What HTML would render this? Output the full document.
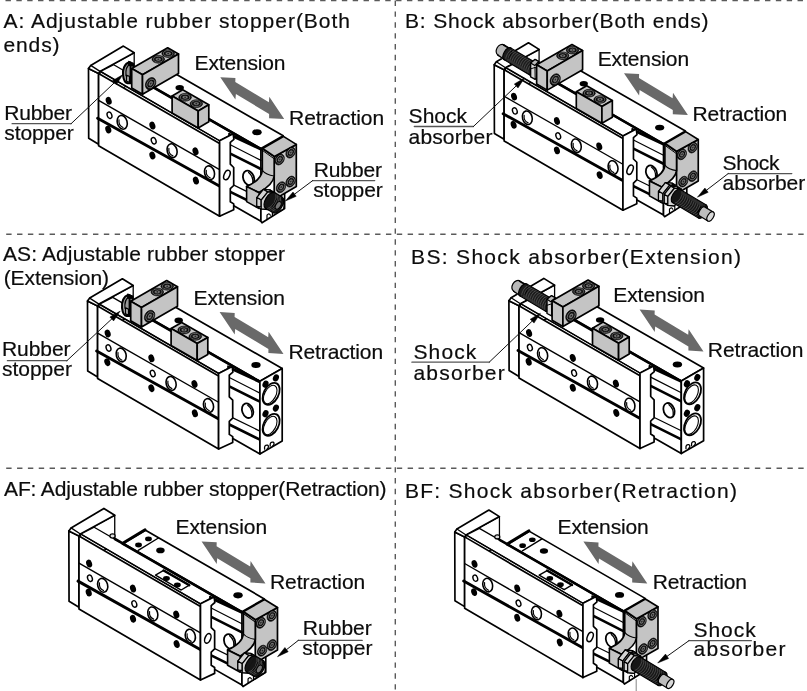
<!DOCTYPE html>
<html><head><meta charset="utf-8"><title>Stopper options</title>
<style>
html,body{margin:0;padding:0;background:#fff;}
body{width:807px;height:691px;overflow:hidden;}
svg{display:block;filter:grayscale(1);}
text{font-family:"Liberation Sans",sans-serif;fill:#0c0c0c;stroke:#0c0c0c;stroke-width:0.2px;}
</style></head><body>
<svg width="807" height="691" viewBox="0 0 807 691">
<rect width="807" height="691" fill="#fff"/>
<g stroke="#5a5a5a" stroke-width="1.4" fill="none" stroke-dasharray="5.4 5.45">
<line x1="5.5" y1="0.1" x2="807" y2="0.1" stroke-width="2.2"/>
<line x1="6.2" y1="234.3" x2="807" y2="234.3"/>
<line x1="6.2" y1="468.3" x2="807" y2="468.3"/>
<line x1="395.3" y1="0.6" x2="395.3" y2="691"/>
</g>
<g transform="translate(0.00 0.00) scale(1.0000 1.0000)"><polygon points="100.0,71.4 134.2,52.8 134.2,82.0 100.0,100.0" fill="#fff" stroke="#000" stroke-width="1.3" stroke-linejoin="round" /><polygon points="88.5,68.4 98.6,73.4 98.6,144.2 88.7,138.2" fill="#fff" stroke="#000" stroke-width="1.7" stroke-linejoin="round" /><polygon points="88.5,68.4 90.7,65.4 123.4,46.1 134.2,52.8 100.0,71.4 98.6,73.4" fill="#fff" stroke="#000" stroke-width="1.7" stroke-linejoin="round" /><line x1="90.7" y1="65.4" x2="100.0" y2="71.4" stroke="#000" stroke-width="1.3" stroke-linecap="round" /><polygon points="143.0,80.8 164.9,67.8 283.2,135.8 260.9,148.6" fill="#fff" stroke="#000" stroke-width="1.7" stroke-linejoin="round" /><polygon points="100.6,71.4 113.7,64.7 233.2,133.6 219.6,140.7" fill="#fff" stroke="#000" stroke-width="1.3" stroke-linejoin="round" /><line x1="142.0" y1="81.0" x2="260.9" y2="149.0" stroke="#000" stroke-width="2.5" stroke-linecap="round" /><polygon points="98.6,73.4 219.6,143.4 219.6,216.2 98.6,145.8" fill="#fff" stroke="#000" stroke-width="1.7" stroke-linejoin="round" /><line x1="100.0" y1="71.4" x2="219.6" y2="140.7" stroke="#000" stroke-width="1.3" stroke-linecap="round" /><line x1="98.6" y1="100.4" x2="220.0" y2="169.8" stroke="#000" stroke-width="1.4" stroke-linecap="round" /><line x1="97.6" y1="118.2" x2="219.8" y2="186.2" stroke="#000" stroke-width="2.9" stroke-linecap="round" /><ellipse cx="108.7" cy="100.8" rx="2.9" ry="4.0" fill="#000" stroke="none" stroke-width="1" transform="rotate(-18 108.7 100.8)"/><ellipse cx="108.3" cy="129.5" rx="2.9" ry="4.0" fill="#000" stroke="none" stroke-width="1" transform="rotate(-18 108.3 129.5)"/><ellipse cx="152.4" cy="125.6" rx="2.9" ry="4.0" fill="#000" stroke="none" stroke-width="1" transform="rotate(-18 152.4 125.6)"/><ellipse cx="152.4" cy="155.5" rx="2.9" ry="4.0" fill="#000" stroke="none" stroke-width="1" transform="rotate(-18 152.4 155.5)"/><ellipse cx="195.5" cy="151.3" rx="2.9" ry="4.0" fill="#000" stroke="none" stroke-width="1" transform="rotate(-18 195.5 151.3)"/><ellipse cx="195.9" cy="180.6" rx="2.9" ry="4.0" fill="#000" stroke="none" stroke-width="1" transform="rotate(-18 195.9 180.6)"/><ellipse cx="109.5" cy="115.3" rx="2.3" ry="3.3" fill="#fff" stroke="#000" stroke-width="1.4" transform="rotate(-20 109.5 115.3)"/><ellipse cx="153.7" cy="140.8" rx="2.3" ry="3.3" fill="#fff" stroke="#000" stroke-width="1.4" transform="rotate(-20 153.7 140.8)"/><ellipse cx="122.2" cy="122.3" rx="4.9" ry="7.0" fill="#fff" stroke="#000" stroke-width="1.6" transform="rotate(-15 122.2 122.3)"/><path d="M119.0,119.9 q-0.8,5.4 4.0,7.6" fill="none" stroke="#000" stroke-width="1.2" stroke-linejoin="round" stroke-linecap="round" /><ellipse cx="172.1" cy="150.7" rx="4.9" ry="7.0" fill="#fff" stroke="#000" stroke-width="1.6" transform="rotate(-15 172.1 150.7)"/><path d="M168.9,148.3 q-0.8,5.4 4.0,7.6" fill="none" stroke="#000" stroke-width="1.2" stroke-linejoin="round" stroke-linecap="round" /><ellipse cx="209.5" cy="172.8" rx="4.9" ry="7.0" fill="#fff" stroke="#000" stroke-width="1.6" transform="rotate(-15 209.5 172.8)"/><path d="M206.3,170.4 q-0.8,5.4 4.0,7.6" fill="none" stroke="#000" stroke-width="1.2" stroke-linejoin="round" stroke-linecap="round" /><polygon points="229.0,133.5 260.9,148.6 260.9,221.2 229.0,203.0" fill="#fff" stroke="#000" stroke-width="1.7" stroke-linejoin="round" /><line x1="230.3" y1="144.8" x2="260.9" y2="160.4" stroke="#000" stroke-width="1.2" stroke-linecap="round" /><line x1="230.3" y1="153.6" x2="260.9" y2="169.0" stroke="#000" stroke-width="2.6" stroke-linecap="round" /><line x1="230.3" y1="183.4" x2="260.9" y2="198.4" stroke="#000" stroke-width="1.2" stroke-linecap="round" /><line x1="230.3" y1="191.8" x2="260.9" y2="207.0" stroke="#000" stroke-width="2.6" stroke-linecap="round" /><line x1="230.3" y1="135.2" x2="260.9" y2="149.4" stroke="#000" stroke-width="2.4" stroke-linecap="round" /><ellipse cx="248.6" cy="178.0" rx="5.4" ry="7.5" fill="#fff" stroke="#000" stroke-width="1.8" transform="rotate(-20 248.6 178.0)"/><path d="M248.6,172.4 q5.0,4.0 4.2,10.6" fill="none" stroke="#000" stroke-width="1.3" stroke-linejoin="round" stroke-linecap="round" /><polygon points="219.6,140.7 233.2,133.8 233.9,139.4 230.3,142.4 230.3,164.2 233.7,167.5 233.7,185.5 230.3,188.7 230.3,201.7 233.7,203.9 233.7,209.7 219.6,216.2" fill="#fff" stroke="#000" stroke-width="1.7" stroke-linejoin="round" /><ellipse cx="226.9" cy="175.0" rx="2.8" ry="5.0" fill="#fff" stroke="#000" stroke-width="1.5" transform="rotate(22 226.9 175.0)"/><ellipse cx="179.7" cy="87.7" rx="4.2" ry="2.8" fill="#000" stroke="none" stroke-width="1"/><ellipse cx="257.0" cy="132.3" rx="4.7" ry="3.0" fill="#000" stroke="none" stroke-width="1"/><path d="M129.4,62.2 C124.4,63.4 122.4,69.6 123.0,75.2 C123.6,80.2 125.6,83.0 127.6,83.2 L130.6,83.2 L130.6,62.6 Z" fill="#9a9a9a" stroke="#000" stroke-width="2.0" stroke-linejoin="round" stroke-linecap="round" /><path d="M129.8,64.4 C126.6,66 125.6,71 126.0,75.6" fill="none" stroke="#000" stroke-width="1.2" stroke-linejoin="round" stroke-linecap="round" /><polygon points="126.6,75.2 129.4,76.4 129.4,82.4 126.6,81.2" fill="#c4c4c4" stroke="#000" stroke-width="1.2" stroke-linejoin="round" /><polygon points="128.6,61.2 134.0,63.4 134.0,66.6 128.6,65.4" fill="#000" stroke="#000" stroke-width="1.0" stroke-linejoin="round" /><polygon points="131.7,68.5 167.7,47.8 178.5,54.0 142.5,74.7" fill="#c4c4c4" stroke="#000" stroke-width="1.7" stroke-linejoin="round" /><polygon points="131.7,68.5 142.5,74.7 142.5,94.2 131.7,88.0" fill="#c4c4c4" stroke="#000" stroke-width="1.7" stroke-linejoin="round" /><polygon points="142.5,74.7 178.5,54.0 178.5,73.5 142.5,94.2" fill="#c4c4c4" stroke="#000" stroke-width="1.7" stroke-linejoin="round" /><ellipse cx="158.3" cy="59.3" rx="6.3" ry="3.9" fill="#0a0a0a" stroke="#000" stroke-width="0.6"/><ellipse cx="158.3" cy="59.2" rx="4.7" ry="2.9" fill="none" stroke="#8a8a8a" stroke-width="0.7"/><ellipse cx="158.3" cy="59.2" rx="2.9" ry="1.8" fill="#777" stroke="#000" stroke-width="0.5"/><ellipse cx="158.3" cy="59.2" rx="1.0" ry="0.8" fill="#222" stroke="none" stroke-width="0"/><ellipse cx="168.2" cy="53.6" rx="6.3" ry="3.9" fill="#0a0a0a" stroke="#000" stroke-width="0.6"/><ellipse cx="168.2" cy="53.5" rx="4.7" ry="2.9" fill="none" stroke="#8a8a8a" stroke-width="0.7"/><ellipse cx="168.2" cy="53.5" rx="2.9" ry="1.8" fill="#777" stroke="#000" stroke-width="0.5"/><ellipse cx="168.2" cy="53.5" rx="1.0" ry="0.8" fill="#222" stroke="none" stroke-width="0"/><ellipse cx="150.6" cy="83.6" rx="4.8" ry="6.4" fill="#0a0a0a" stroke="#000" stroke-width="0.6" transform="rotate(30 150.6 83.6)"/><ellipse cx="150.8" cy="83.5" rx="3.4" ry="4.7" fill="none" stroke="#8a8a8a" stroke-width="0.7" transform="rotate(30 150.8 83.5)"/><ellipse cx="150.8" cy="83.5" rx="2.1" ry="3.0" fill="#777" stroke="#000" stroke-width="0.5" transform="rotate(30 150.8 83.5)"/><ellipse cx="150.8" cy="83.5" rx="0.7" ry="1.2" fill="#222" stroke="none" stroke-width="0" transform="rotate(30 150.8 83.5)"/><polygon points="172.1,95.9 182.7,89.8 208.8,104.8 198.2,110.9" fill="#c4c4c4" stroke="#000" stroke-width="1.7" stroke-linejoin="round" /><polygon points="172.1,95.9 198.2,110.9 198.2,127.9 172.1,112.9" fill="#c4c4c4" stroke="#000" stroke-width="1.7" stroke-linejoin="round" /><polygon points="198.2,110.9 208.8,104.8 208.8,121.8 198.2,127.9" fill="#c4c4c4" stroke="#000" stroke-width="1.7" stroke-linejoin="round" /><ellipse cx="185.1" cy="97.3" rx="6.3" ry="3.9" fill="#0a0a0a" stroke="#000" stroke-width="0.6"/><ellipse cx="185.1" cy="97.2" rx="4.7" ry="2.9" fill="none" stroke="#8a8a8a" stroke-width="0.7"/><ellipse cx="185.1" cy="97.2" rx="2.9" ry="1.8" fill="#777" stroke="#000" stroke-width="0.5"/><ellipse cx="185.1" cy="97.2" rx="1.0" ry="0.8" fill="#222" stroke="none" stroke-width="0"/><ellipse cx="196.3" cy="103.7" rx="6.3" ry="3.9" fill="#0a0a0a" stroke="#000" stroke-width="0.6"/><ellipse cx="196.3" cy="103.6" rx="4.7" ry="2.9" fill="none" stroke="#8a8a8a" stroke-width="0.7"/><ellipse cx="196.3" cy="103.6" rx="2.9" ry="1.8" fill="#777" stroke="#000" stroke-width="0.5"/><ellipse cx="196.3" cy="103.6" rx="1.0" ry="0.8" fill="#222" stroke="none" stroke-width="0"/><polygon points="260.9,205.0 284.6,192.0 284.6,208.5 262.0,222.8 260.9,221.2" fill="#fff" stroke="#000" stroke-width="1.7" stroke-linejoin="round" /><path d="M267,219.6 v-4.4 q2,-2.6 3.4,0 M272.4,216.4 v-4.2" fill="none" stroke="#000" stroke-width="1.2" stroke-linejoin="round" stroke-linecap="round" /><polygon points="274.2,156.6 296.3,144.4 296.3,186.6 281.0,195.4 274.2,198.8" fill="#c4c4c4" stroke="#000" stroke-width="1.7" stroke-linejoin="round" /><path d="M262.3,148.6 L274.2,156.6 L274.2,176 Q273.5,184 259,192.6 L246.6,186.4 Q261.5,180 262.3,170.4 Z" fill="#c4c4c4" stroke="#000" stroke-width="1.7" stroke-linejoin="round" stroke-linecap="round" /><path d="M262.3,170.4 Q266,175 274.2,176" fill="none" stroke="#000" stroke-width="1.1" stroke-linejoin="round" stroke-linecap="round" /><polygon points="262.6,148.4 283.4,136.4 296.3,144.4 274.4,156.4" fill="#c4c4c4" stroke="#000" stroke-width="1.7" stroke-linejoin="round" /><line x1="263.0" y1="150.8" x2="273.6" y2="158.4" stroke="#000" stroke-width="1.0" stroke-linecap="round" /><ellipse cx="279.6" cy="159.5" rx="4.3" ry="5.8" fill="#0a0a0a" stroke="#000" stroke-width="0.6" transform="rotate(30 279.6 159.5)"/><ellipse cx="279.8" cy="159.4" rx="3.1" ry="4.2" fill="none" stroke="#8a8a8a" stroke-width="0.7" transform="rotate(30 279.8 159.4)"/><ellipse cx="279.8" cy="159.4" rx="1.9" ry="2.7" fill="#777" stroke="#000" stroke-width="0.5" transform="rotate(30 279.8 159.4)"/><ellipse cx="279.8" cy="159.4" rx="0.7" ry="1.1" fill="#222" stroke="none" stroke-width="0" transform="rotate(30 279.8 159.4)"/><ellipse cx="290.6" cy="152.6" rx="4.3" ry="5.8" fill="#0a0a0a" stroke="#000" stroke-width="0.6" transform="rotate(30 290.6 152.6)"/><ellipse cx="290.8" cy="152.5" rx="3.1" ry="4.2" fill="none" stroke="#8a8a8a" stroke-width="0.7" transform="rotate(30 290.8 152.5)"/><ellipse cx="290.8" cy="152.5" rx="1.9" ry="2.7" fill="#777" stroke="#000" stroke-width="0.5" transform="rotate(30 290.8 152.5)"/><ellipse cx="290.8" cy="152.5" rx="0.7" ry="1.1" fill="#222" stroke="none" stroke-width="0" transform="rotate(30 290.8 152.5)"/><ellipse cx="281.0" cy="187.2" rx="4.3" ry="5.8" fill="#0a0a0a" stroke="#000" stroke-width="0.6" transform="rotate(30 281.0 187.2)"/><ellipse cx="281.2" cy="187.1" rx="3.1" ry="4.2" fill="none" stroke="#8a8a8a" stroke-width="0.7" transform="rotate(30 281.2 187.1)"/><ellipse cx="281.2" cy="187.1" rx="1.9" ry="2.7" fill="#777" stroke="#000" stroke-width="0.5" transform="rotate(30 281.2 187.1)"/><ellipse cx="281.2" cy="187.1" rx="0.7" ry="1.1" fill="#222" stroke="none" stroke-width="0" transform="rotate(30 281.2 187.1)"/><ellipse cx="290.6" cy="181.6" rx="4.3" ry="5.8" fill="#0a0a0a" stroke="#000" stroke-width="0.6" transform="rotate(30 290.6 181.6)"/><ellipse cx="290.8" cy="181.5" rx="3.1" ry="4.2" fill="none" stroke="#8a8a8a" stroke-width="0.7" transform="rotate(30 290.8 181.5)"/><ellipse cx="290.8" cy="181.5" rx="1.9" ry="2.7" fill="#777" stroke="#000" stroke-width="0.5" transform="rotate(30 290.8 181.5)"/><ellipse cx="290.8" cy="181.5" rx="0.7" ry="1.1" fill="#222" stroke="none" stroke-width="0" transform="rotate(30 290.8 181.5)"/><polygon points="246.6,186.6 259.2,192.8 259.2,208.6 246.6,201.6" fill="#c4c4c4" stroke="#000" stroke-width="1.6" stroke-linejoin="round" /><polygon points="270.0,190.0 263.4,189.4 256.8,197.6 256.8,206.4 263.4,207.0 270.0,198.8" fill="#d4d4d4" stroke="#000" stroke-width="1.3" stroke-linejoin="round" /><polygon points="270.0,190.0 263.4,189.4 267.8,191.9 274.4,192.5" fill="#d4d4d4" stroke="#000" stroke-width="1.2" stroke-linejoin="round" /><polygon points="263.4,189.4 256.8,197.6 261.2,200.1 267.8,191.9" fill="#d4d4d4" stroke="#000" stroke-width="1.2" stroke-linejoin="round" /><polygon points="256.8,197.6 256.8,206.4 261.2,208.9 261.2,200.1" fill="#d4d4d4" stroke="#000" stroke-width="1.2" stroke-linejoin="round" /><polygon points="256.8,206.4 263.4,207.0 267.8,209.5 261.2,208.9" fill="#d4d4d4" stroke="#000" stroke-width="1.2" stroke-linejoin="round" /><polygon points="263.4,207.0 270.0,198.8 274.4,201.3 267.8,209.5" fill="#d4d4d4" stroke="#000" stroke-width="1.2" stroke-linejoin="round" /><polygon points="270.0,198.8 270.0,190.0 274.4,192.5 274.4,201.3" fill="#d4d4d4" stroke="#000" stroke-width="1.2" stroke-linejoin="round" /><polygon points="274.4,192.5 267.8,191.9 261.2,200.1 261.2,208.9 267.8,209.5 274.4,201.3" fill="#d4d4d4" stroke="#000" stroke-width="1.3" stroke-linejoin="round" /><ellipse cx="270.0" cy="200.4" rx="4.5" ry="9.0" fill="#161616" stroke="#000" stroke-width="1.2" transform="rotate(30.5 270.0 200.4)"/><polygon points="265.4,208.2 274.6,192.6 282.4,197.2 273.2,212.8" fill="#161616" stroke="#161616" stroke-width="0.1" stroke-linejoin="round" /><line x1="265.4" y1="208.2" x2="273.2" y2="212.8" stroke="#000" stroke-width="1.2" stroke-linecap="round" /><line x1="274.6" y1="192.6" x2="282.4" y2="197.2" stroke="#000" stroke-width="1.2" stroke-linecap="round" /><ellipse cx="277.8" cy="205.0" rx="4.5" ry="9.0" fill="#161616" stroke="#000" stroke-width="1.2" transform="rotate(30.5 277.8 205.0)"/><path d="M275.8,194.2 A4.5,9.0 30.5 0 1 267.4,208.5" fill="none" stroke="#707070" stroke-width="0.55"/><path d="M277.3,195.1 A4.5,9.0 30.5 0 1 268.9,209.4" fill="none" stroke="#707070" stroke-width="0.55"/><path d="M278.9,196.0 A4.5,9.0 30.5 0 1 270.5,210.3" fill="none" stroke="#707070" stroke-width="0.55"/><path d="M280.4,196.9 A4.5,9.0 30.5 0 1 272.0,211.2" fill="none" stroke="#707070" stroke-width="0.55"/><ellipse cx="278.2" cy="205.4" rx="2.4" ry="4.2" fill="#777" stroke="#000" stroke-width="1.0" transform="rotate(30 278.2 205.4)"/><path d="M281.8,198.6 q3.4,3.6 1.8,10.6 l-3.4,2.0" fill="none" stroke="#000" stroke-width="1.3" stroke-linejoin="round" stroke-linecap="round" /></g>
<g transform="translate(407.30 -2.56) scale(0.9820 0.9840)"><polygon points="100.0,71.4 134.2,52.8 134.2,82.0 100.0,100.0" fill="#fff" stroke="#000" stroke-width="1.3" stroke-linejoin="round" /><polygon points="88.5,68.4 98.6,73.4 98.6,144.2 88.7,138.2" fill="#fff" stroke="#000" stroke-width="1.7" stroke-linejoin="round" /><polygon points="88.5,68.4 90.7,65.4 123.4,46.1 134.2,52.8 100.0,71.4 98.6,73.4" fill="#fff" stroke="#000" stroke-width="1.7" stroke-linejoin="round" /><line x1="90.7" y1="65.4" x2="100.0" y2="71.4" stroke="#000" stroke-width="1.3" stroke-linecap="round" /><polygon points="143.0,80.8 164.9,67.8 283.2,135.8 260.9,148.6" fill="#fff" stroke="#000" stroke-width="1.7" stroke-linejoin="round" /><polygon points="100.6,71.4 113.7,64.7 233.2,133.6 219.6,140.7" fill="#fff" stroke="#000" stroke-width="1.3" stroke-linejoin="round" /><line x1="142.0" y1="81.0" x2="260.9" y2="149.0" stroke="#000" stroke-width="2.5" stroke-linecap="round" /><polygon points="98.6,73.4 219.6,143.4 219.6,216.2 98.6,145.8" fill="#fff" stroke="#000" stroke-width="1.7" stroke-linejoin="round" /><line x1="100.0" y1="71.4" x2="219.6" y2="140.7" stroke="#000" stroke-width="1.3" stroke-linecap="round" /><line x1="98.6" y1="100.4" x2="220.0" y2="169.8" stroke="#000" stroke-width="1.4" stroke-linecap="round" /><line x1="97.6" y1="118.2" x2="219.8" y2="186.2" stroke="#000" stroke-width="2.9" stroke-linecap="round" /><ellipse cx="108.7" cy="100.8" rx="2.9" ry="4.0" fill="#000" stroke="none" stroke-width="1" transform="rotate(-18 108.7 100.8)"/><ellipse cx="108.3" cy="129.5" rx="2.9" ry="4.0" fill="#000" stroke="none" stroke-width="1" transform="rotate(-18 108.3 129.5)"/><ellipse cx="152.4" cy="125.6" rx="2.9" ry="4.0" fill="#000" stroke="none" stroke-width="1" transform="rotate(-18 152.4 125.6)"/><ellipse cx="152.4" cy="155.5" rx="2.9" ry="4.0" fill="#000" stroke="none" stroke-width="1" transform="rotate(-18 152.4 155.5)"/><ellipse cx="195.5" cy="151.3" rx="2.9" ry="4.0" fill="#000" stroke="none" stroke-width="1" transform="rotate(-18 195.5 151.3)"/><ellipse cx="195.9" cy="180.6" rx="2.9" ry="4.0" fill="#000" stroke="none" stroke-width="1" transform="rotate(-18 195.9 180.6)"/><ellipse cx="109.5" cy="115.3" rx="2.3" ry="3.3" fill="#fff" stroke="#000" stroke-width="1.4" transform="rotate(-20 109.5 115.3)"/><ellipse cx="153.7" cy="140.8" rx="2.3" ry="3.3" fill="#fff" stroke="#000" stroke-width="1.4" transform="rotate(-20 153.7 140.8)"/><ellipse cx="122.2" cy="122.3" rx="4.9" ry="7.0" fill="#fff" stroke="#000" stroke-width="1.6" transform="rotate(-15 122.2 122.3)"/><path d="M119.0,119.9 q-0.8,5.4 4.0,7.6" fill="none" stroke="#000" stroke-width="1.2" stroke-linejoin="round" stroke-linecap="round" /><ellipse cx="172.1" cy="150.7" rx="4.9" ry="7.0" fill="#fff" stroke="#000" stroke-width="1.6" transform="rotate(-15 172.1 150.7)"/><path d="M168.9,148.3 q-0.8,5.4 4.0,7.6" fill="none" stroke="#000" stroke-width="1.2" stroke-linejoin="round" stroke-linecap="round" /><ellipse cx="209.5" cy="172.8" rx="4.9" ry="7.0" fill="#fff" stroke="#000" stroke-width="1.6" transform="rotate(-15 209.5 172.8)"/><path d="M206.3,170.4 q-0.8,5.4 4.0,7.6" fill="none" stroke="#000" stroke-width="1.2" stroke-linejoin="round" stroke-linecap="round" /><polygon points="229.0,133.5 260.9,148.6 260.9,221.2 229.0,203.0" fill="#fff" stroke="#000" stroke-width="1.7" stroke-linejoin="round" /><line x1="230.3" y1="144.8" x2="260.9" y2="160.4" stroke="#000" stroke-width="1.2" stroke-linecap="round" /><line x1="230.3" y1="153.6" x2="260.9" y2="169.0" stroke="#000" stroke-width="2.6" stroke-linecap="round" /><line x1="230.3" y1="183.4" x2="260.9" y2="198.4" stroke="#000" stroke-width="1.2" stroke-linecap="round" /><line x1="230.3" y1="191.8" x2="260.9" y2="207.0" stroke="#000" stroke-width="2.6" stroke-linecap="round" /><line x1="230.3" y1="135.2" x2="260.9" y2="149.4" stroke="#000" stroke-width="2.4" stroke-linecap="round" /><ellipse cx="248.6" cy="178.0" rx="5.4" ry="7.5" fill="#fff" stroke="#000" stroke-width="1.8" transform="rotate(-20 248.6 178.0)"/><path d="M248.6,172.4 q5.0,4.0 4.2,10.6" fill="none" stroke="#000" stroke-width="1.3" stroke-linejoin="round" stroke-linecap="round" /><polygon points="219.6,140.7 233.2,133.8 233.9,139.4 230.3,142.4 230.3,164.2 233.7,167.5 233.7,185.5 230.3,188.7 230.3,201.7 233.7,203.9 233.7,209.7 219.6,216.2" fill="#fff" stroke="#000" stroke-width="1.7" stroke-linejoin="round" /><ellipse cx="226.9" cy="175.0" rx="2.8" ry="5.0" fill="#fff" stroke="#000" stroke-width="1.5" transform="rotate(22 226.9 175.0)"/><ellipse cx="179.7" cy="87.7" rx="4.2" ry="2.8" fill="#000" stroke="none" stroke-width="1"/><ellipse cx="257.0" cy="132.3" rx="4.7" ry="3.0" fill="#000" stroke="none" stroke-width="1"/><g transform="translate(1.6 0.6)"><ellipse cx="99.6" cy="56.2" rx="4.5" ry="6.0" fill="#b8b8b8" stroke="#000" stroke-width="1.2" transform="rotate(-149.6 99.6 56.2)"/><polygon points="102.6,51.0 96.6,61.4 90.8,58.0 96.8,47.6" fill="#b8b8b8" stroke="#b8b8b8" stroke-width="0.1" stroke-linejoin="round" /><line x1="102.6" y1="51.0" x2="96.8" y2="47.6" stroke="#000" stroke-width="1.2" stroke-linecap="round" /><line x1="96.6" y1="61.4" x2="90.8" y2="58.0" stroke="#000" stroke-width="1.2" stroke-linecap="round" /><ellipse cx="93.8" cy="52.8" rx="4.5" ry="6.0" fill="#b8b8b8" stroke="#000" stroke-width="1.2" transform="rotate(-149.6 93.8 52.8)"/><polygon points="96.5,48.6 102.8,52.2 96.6,62.6 91.0,58.8" fill="#b8b8b8" stroke="#b8b8b8" stroke-width="0.1" stroke-linejoin="round" /><line x1="96.4" y1="48.0" x2="103.0" y2="51.8" stroke="#000" stroke-width="1.3" stroke-linecap="round" /><line x1="90.6" y1="58.0" x2="96.6" y2="62.0" stroke="#000" stroke-width="1.3" stroke-linecap="round" /><ellipse cx="126.6" cy="72.2" rx="3.5" ry="6.9" fill="#1c1c1c" stroke="#000" stroke-width="1.2" transform="rotate(-149.4 126.6 72.2)"/><polygon points="130.1,66.3 123.1,78.1 96.7,62.5 103.7,50.7" fill="#1c1c1c" stroke="#1c1c1c" stroke-width="0.1" stroke-linejoin="round" /><line x1="130.1" y1="66.3" x2="103.7" y2="50.7" stroke="#000" stroke-width="1.2" stroke-linecap="round" /><line x1="123.1" y1="78.1" x2="96.7" y2="62.5" stroke="#000" stroke-width="1.2" stroke-linecap="round" /><ellipse cx="100.2" cy="56.6" rx="3.5" ry="6.9" fill="#1c1c1c" stroke="#000" stroke-width="1.2" transform="rotate(-149.4 100.2 56.6)"/><path d="M121.3,76.5 A3.5,6.9 -149.4 0 1 127.8,65.5" fill="none" stroke="#707070" stroke-width="0.55"/><path d="M119.3,75.3 A3.5,6.9 -149.4 0 1 125.8,64.3" fill="none" stroke="#707070" stroke-width="0.55"/><path d="M117.3,74.1 A3.5,6.9 -149.4 0 1 123.7,63.1" fill="none" stroke="#707070" stroke-width="0.55"/><path d="M115.2,72.9 A3.5,6.9 -149.4 0 1 121.7,61.9" fill="none" stroke="#707070" stroke-width="0.55"/><path d="M113.2,71.7 A3.5,6.9 -149.4 0 1 119.7,60.7" fill="none" stroke="#707070" stroke-width="0.55"/><path d="M111.2,70.5 A3.5,6.9 -149.4 0 1 117.6,59.5" fill="none" stroke="#707070" stroke-width="0.55"/><path d="M109.2,69.3 A3.5,6.9 -149.4 0 1 115.6,58.3" fill="none" stroke="#707070" stroke-width="0.55"/><path d="M107.1,68.1 A3.5,6.9 -149.4 0 1 113.6,57.1" fill="none" stroke="#707070" stroke-width="0.55"/><path d="M105.1,66.9 A3.5,6.9 -149.4 0 1 111.6,55.9" fill="none" stroke="#707070" stroke-width="0.55"/><path d="M103.1,65.7 A3.5,6.9 -149.4 0 1 109.5,54.7" fill="none" stroke="#707070" stroke-width="0.55"/><path d="M101.0,64.5 A3.5,6.9 -149.4 0 1 107.5,53.5" fill="none" stroke="#707070" stroke-width="0.55"/><path d="M99.0,63.3 A3.5,6.9 -149.4 0 1 105.5,52.3" fill="none" stroke="#707070" stroke-width="0.55"/><polygon points="124.0,66.0 128.4,62.4 132.2,64.4 132.2,80.0 128.6,82.6 124.0,80.2" fill="#d8d8d8" stroke="#000" stroke-width="1.4" stroke-linejoin="round" /><line x1="128.4" y1="70.6" x2="128.6" y2="82.6" stroke="#000" stroke-width="1.0" stroke-linecap="round" /><line x1="124.0" y1="72.0" x2="128.4" y2="70.6" stroke="#000" stroke-width="1.0" stroke-linecap="round" /><line x1="128.4" y1="70.6" x2="132.2" y2="72.2" stroke="#000" stroke-width="1.0" stroke-linecap="round" /><polygon points="124.0,66.0 128.4,62.4 132.2,64.4 128.2,68.6" fill="#bbb" stroke="#000" stroke-width="1.2" stroke-linejoin="round" /></g><polygon points="131.7,68.5 167.7,47.8 178.5,54.0 142.5,74.7" fill="#c4c4c4" stroke="#000" stroke-width="1.7" stroke-linejoin="round" /><polygon points="131.7,68.5 142.5,74.7 142.5,94.2 131.7,88.0" fill="#c4c4c4" stroke="#000" stroke-width="1.7" stroke-linejoin="round" /><polygon points="142.5,74.7 178.5,54.0 178.5,73.5 142.5,94.2" fill="#c4c4c4" stroke="#000" stroke-width="1.7" stroke-linejoin="round" /><ellipse cx="158.3" cy="59.3" rx="6.3" ry="3.9" fill="#0a0a0a" stroke="#000" stroke-width="0.6"/><ellipse cx="158.3" cy="59.2" rx="4.7" ry="2.9" fill="none" stroke="#8a8a8a" stroke-width="0.7"/><ellipse cx="158.3" cy="59.2" rx="2.9" ry="1.8" fill="#777" stroke="#000" stroke-width="0.5"/><ellipse cx="158.3" cy="59.2" rx="1.0" ry="0.8" fill="#222" stroke="none" stroke-width="0"/><ellipse cx="168.2" cy="53.6" rx="6.3" ry="3.9" fill="#0a0a0a" stroke="#000" stroke-width="0.6"/><ellipse cx="168.2" cy="53.5" rx="4.7" ry="2.9" fill="none" stroke="#8a8a8a" stroke-width="0.7"/><ellipse cx="168.2" cy="53.5" rx="2.9" ry="1.8" fill="#777" stroke="#000" stroke-width="0.5"/><ellipse cx="168.2" cy="53.5" rx="1.0" ry="0.8" fill="#222" stroke="none" stroke-width="0"/><ellipse cx="150.6" cy="83.6" rx="4.8" ry="6.4" fill="#0a0a0a" stroke="#000" stroke-width="0.6" transform="rotate(30 150.6 83.6)"/><ellipse cx="150.8" cy="83.5" rx="3.4" ry="4.7" fill="none" stroke="#8a8a8a" stroke-width="0.7" transform="rotate(30 150.8 83.5)"/><ellipse cx="150.8" cy="83.5" rx="2.1" ry="3.0" fill="#777" stroke="#000" stroke-width="0.5" transform="rotate(30 150.8 83.5)"/><ellipse cx="150.8" cy="83.5" rx="0.7" ry="1.2" fill="#222" stroke="none" stroke-width="0" transform="rotate(30 150.8 83.5)"/><polygon points="172.1,95.9 182.7,89.8 208.8,104.8 198.2,110.9" fill="#c4c4c4" stroke="#000" stroke-width="1.7" stroke-linejoin="round" /><polygon points="172.1,95.9 198.2,110.9 198.2,127.9 172.1,112.9" fill="#c4c4c4" stroke="#000" stroke-width="1.7" stroke-linejoin="round" /><polygon points="198.2,110.9 208.8,104.8 208.8,121.8 198.2,127.9" fill="#c4c4c4" stroke="#000" stroke-width="1.7" stroke-linejoin="round" /><ellipse cx="185.1" cy="97.3" rx="6.3" ry="3.9" fill="#0a0a0a" stroke="#000" stroke-width="0.6"/><ellipse cx="185.1" cy="97.2" rx="4.7" ry="2.9" fill="none" stroke="#8a8a8a" stroke-width="0.7"/><ellipse cx="185.1" cy="97.2" rx="2.9" ry="1.8" fill="#777" stroke="#000" stroke-width="0.5"/><ellipse cx="185.1" cy="97.2" rx="1.0" ry="0.8" fill="#222" stroke="none" stroke-width="0"/><ellipse cx="196.3" cy="103.7" rx="6.3" ry="3.9" fill="#0a0a0a" stroke="#000" stroke-width="0.6"/><ellipse cx="196.3" cy="103.6" rx="4.7" ry="2.9" fill="none" stroke="#8a8a8a" stroke-width="0.7"/><ellipse cx="196.3" cy="103.6" rx="2.9" ry="1.8" fill="#777" stroke="#000" stroke-width="0.5"/><ellipse cx="196.3" cy="103.6" rx="1.0" ry="0.8" fill="#222" stroke="none" stroke-width="0"/><polygon points="260.9,205.0 284.6,192.0 284.6,208.5 262.0,222.8 260.9,221.2" fill="#fff" stroke="#000" stroke-width="1.7" stroke-linejoin="round" /><path d="M267,219.6 v-4.4 q2,-2.6 3.4,0 M272.4,216.4 v-4.2" fill="none" stroke="#000" stroke-width="1.2" stroke-linejoin="round" stroke-linecap="round" /><polygon points="274.2,156.6 296.3,144.4 296.3,186.6 281.0,195.4 274.2,198.8" fill="#c4c4c4" stroke="#000" stroke-width="1.7" stroke-linejoin="round" /><path d="M262.3,148.6 L274.2,156.6 L274.2,176 Q273.5,184 259,192.6 L246.6,186.4 Q261.5,180 262.3,170.4 Z" fill="#c4c4c4" stroke="#000" stroke-width="1.7" stroke-linejoin="round" stroke-linecap="round" /><path d="M262.3,170.4 Q266,175 274.2,176" fill="none" stroke="#000" stroke-width="1.1" stroke-linejoin="round" stroke-linecap="round" /><polygon points="262.6,148.4 283.4,136.4 296.3,144.4 274.4,156.4" fill="#c4c4c4" stroke="#000" stroke-width="1.7" stroke-linejoin="round" /><line x1="263.0" y1="150.8" x2="273.6" y2="158.4" stroke="#000" stroke-width="1.0" stroke-linecap="round" /><ellipse cx="279.6" cy="159.5" rx="4.3" ry="5.8" fill="#0a0a0a" stroke="#000" stroke-width="0.6" transform="rotate(30 279.6 159.5)"/><ellipse cx="279.8" cy="159.4" rx="3.1" ry="4.2" fill="none" stroke="#8a8a8a" stroke-width="0.7" transform="rotate(30 279.8 159.4)"/><ellipse cx="279.8" cy="159.4" rx="1.9" ry="2.7" fill="#777" stroke="#000" stroke-width="0.5" transform="rotate(30 279.8 159.4)"/><ellipse cx="279.8" cy="159.4" rx="0.7" ry="1.1" fill="#222" stroke="none" stroke-width="0" transform="rotate(30 279.8 159.4)"/><ellipse cx="290.6" cy="152.6" rx="4.3" ry="5.8" fill="#0a0a0a" stroke="#000" stroke-width="0.6" transform="rotate(30 290.6 152.6)"/><ellipse cx="290.8" cy="152.5" rx="3.1" ry="4.2" fill="none" stroke="#8a8a8a" stroke-width="0.7" transform="rotate(30 290.8 152.5)"/><ellipse cx="290.8" cy="152.5" rx="1.9" ry="2.7" fill="#777" stroke="#000" stroke-width="0.5" transform="rotate(30 290.8 152.5)"/><ellipse cx="290.8" cy="152.5" rx="0.7" ry="1.1" fill="#222" stroke="none" stroke-width="0" transform="rotate(30 290.8 152.5)"/><ellipse cx="281.0" cy="187.2" rx="4.3" ry="5.8" fill="#0a0a0a" stroke="#000" stroke-width="0.6" transform="rotate(30 281.0 187.2)"/><ellipse cx="281.2" cy="187.1" rx="3.1" ry="4.2" fill="none" stroke="#8a8a8a" stroke-width="0.7" transform="rotate(30 281.2 187.1)"/><ellipse cx="281.2" cy="187.1" rx="1.9" ry="2.7" fill="#777" stroke="#000" stroke-width="0.5" transform="rotate(30 281.2 187.1)"/><ellipse cx="281.2" cy="187.1" rx="0.7" ry="1.1" fill="#222" stroke="none" stroke-width="0" transform="rotate(30 281.2 187.1)"/><ellipse cx="290.6" cy="181.6" rx="4.3" ry="5.8" fill="#0a0a0a" stroke="#000" stroke-width="0.6" transform="rotate(30 290.6 181.6)"/><ellipse cx="290.8" cy="181.5" rx="3.1" ry="4.2" fill="none" stroke="#8a8a8a" stroke-width="0.7" transform="rotate(30 290.8 181.5)"/><ellipse cx="290.8" cy="181.5" rx="1.9" ry="2.7" fill="#777" stroke="#000" stroke-width="0.5" transform="rotate(30 290.8 181.5)"/><ellipse cx="290.8" cy="181.5" rx="0.7" ry="1.1" fill="#222" stroke="none" stroke-width="0" transform="rotate(30 290.8 181.5)"/><polygon points="246.6,186.6 259.2,192.8 259.2,208.6 246.6,201.6" fill="#c4c4c4" stroke="#000" stroke-width="1.6" stroke-linejoin="round" /><polygon points="269.8,188.8 262.8,188.2 255.8,197.0 255.8,206.4 262.8,207.0 269.8,198.2" fill="#d4d4d4" stroke="#000" stroke-width="1.3" stroke-linejoin="round" /><polygon points="269.8,188.8 262.8,188.2 267.2,190.7 274.2,191.4" fill="#d4d4d4" stroke="#000" stroke-width="1.2" stroke-linejoin="round" /><polygon points="262.8,188.2 255.8,197.0 260.2,199.5 267.2,190.7" fill="#d4d4d4" stroke="#000" stroke-width="1.2" stroke-linejoin="round" /><polygon points="255.8,197.0 255.8,206.4 260.2,208.9 260.2,199.5" fill="#d4d4d4" stroke="#000" stroke-width="1.2" stroke-linejoin="round" /><polygon points="255.8,206.4 262.8,207.0 267.2,209.5 260.2,208.9" fill="#d4d4d4" stroke="#000" stroke-width="1.2" stroke-linejoin="round" /><polygon points="262.8,207.0 269.8,198.2 274.2,200.8 267.2,209.5" fill="#d4d4d4" stroke="#000" stroke-width="1.2" stroke-linejoin="round" /><polygon points="269.8,198.2 269.8,188.8 274.2,191.4 274.2,200.8" fill="#d4d4d4" stroke="#000" stroke-width="1.2" stroke-linejoin="round" /><polygon points="274.2,191.4 267.2,190.7 260.2,199.5 260.2,208.9 267.2,209.5 274.2,200.8" fill="#d4d4d4" stroke="#000" stroke-width="1.3" stroke-linejoin="round" /><polygon points="275.1,192.4 268.4,191.8 261.7,200.2 261.7,209.2 268.4,209.8 275.1,201.4" fill="#d4d4d4" stroke="#000" stroke-width="1.3" stroke-linejoin="round" /><polygon points="275.1,192.4 268.4,191.8 272.0,193.9 278.7,194.5" fill="#d4d4d4" stroke="#000" stroke-width="1.2" stroke-linejoin="round" /><polygon points="268.4,191.8 261.7,200.2 265.3,202.3 272.0,193.9" fill="#d4d4d4" stroke="#000" stroke-width="1.2" stroke-linejoin="round" /><polygon points="261.7,200.2 261.7,209.2 265.3,211.3 265.3,202.3" fill="#d4d4d4" stroke="#000" stroke-width="1.2" stroke-linejoin="round" /><polygon points="261.7,209.2 268.4,209.8 272.0,211.9 265.3,211.3" fill="#d4d4d4" stroke="#000" stroke-width="1.2" stroke-linejoin="round" /><polygon points="268.4,209.8 275.1,201.4 278.7,203.5 272.0,211.9" fill="#d4d4d4" stroke="#000" stroke-width="1.2" stroke-linejoin="round" /><polygon points="275.1,201.4 275.1,192.4 278.7,194.5 278.7,203.5" fill="#d4d4d4" stroke="#000" stroke-width="1.2" stroke-linejoin="round" /><polygon points="278.7,194.5 272.0,193.9 265.3,202.3 265.3,211.3 272.0,211.9 278.7,203.5" fill="#d4d4d4" stroke="#000" stroke-width="1.3" stroke-linejoin="round" /><ellipse cx="274.0" cy="201.8" rx="3.9" ry="7.7" fill="#161616" stroke="#000" stroke-width="1.2" transform="rotate(30.8 274.0 201.8)"/><polygon points="270.1,208.4 277.9,195.2 304.4,211.0 296.6,224.2" fill="#161616" stroke="#161616" stroke-width="0.1" stroke-linejoin="round" /><line x1="270.1" y1="208.4" x2="296.6" y2="224.2" stroke="#000" stroke-width="1.2" stroke-linecap="round" /><line x1="277.9" y1="195.2" x2="304.4" y2="211.0" stroke="#000" stroke-width="1.2" stroke-linecap="round" /><ellipse cx="300.5" cy="217.6" rx="3.9" ry="7.7" fill="#161616" stroke="#000" stroke-width="1.2" transform="rotate(30.8 300.5 217.6)"/><path d="M279.7,196.9 A3.9,7.7 30.8 0 1 272.4,209.1" fill="none" stroke="#707070" stroke-width="0.55"/><path d="M281.7,198.1 A3.9,7.7 30.8 0 1 274.4,210.3" fill="none" stroke="#707070" stroke-width="0.55"/><path d="M283.7,199.4 A3.9,7.7 30.8 0 1 276.5,211.5" fill="none" stroke="#707070" stroke-width="0.55"/><path d="M285.8,200.6 A3.9,7.7 30.8 0 1 278.5,212.7" fill="none" stroke="#707070" stroke-width="0.55"/><path d="M287.8,201.8 A3.9,7.7 30.8 0 1 280.6,214.0" fill="none" stroke="#707070" stroke-width="0.55"/><path d="M289.9,203.0 A3.9,7.7 30.8 0 1 282.6,215.2" fill="none" stroke="#707070" stroke-width="0.55"/><path d="M291.9,204.2 A3.9,7.7 30.8 0 1 284.6,216.4" fill="none" stroke="#707070" stroke-width="0.55"/><path d="M293.9,205.4 A3.9,7.7 30.8 0 1 286.7,217.6" fill="none" stroke="#707070" stroke-width="0.55"/><path d="M296.0,206.7 A3.9,7.7 30.8 0 1 288.7,218.8" fill="none" stroke="#707070" stroke-width="0.55"/><path d="M298.0,207.9 A3.9,7.7 30.8 0 1 290.8,220.0" fill="none" stroke="#707070" stroke-width="0.55"/><path d="M300.1,209.1 A3.9,7.7 30.8 0 1 292.8,221.3" fill="none" stroke="#707070" stroke-width="0.55"/><path d="M302.1,210.3 A3.9,7.7 30.8 0 1 294.8,222.5" fill="none" stroke="#707070" stroke-width="0.55"/><ellipse cx="300.5" cy="217.6" rx="2.9" ry="5.3" fill="#bdbdbd" stroke="#000" stroke-width="1.2" transform="rotate(31.1 300.5 217.6)"/><polygon points="297.8,222.1 303.2,213.1 311.5,218.1 306.1,227.1" fill="#bdbdbd" stroke="#bdbdbd" stroke-width="0.1" stroke-linejoin="round" /><line x1="297.8" y1="222.1" x2="306.1" y2="227.1" stroke="#000" stroke-width="1.2" stroke-linecap="round" /><line x1="303.2" y1="213.1" x2="311.5" y2="218.1" stroke="#000" stroke-width="1.2" stroke-linecap="round" /><ellipse cx="308.8" cy="222.6" rx="2.9" ry="5.3" fill="#d9d9d9" stroke="#000" stroke-width="1.2" transform="rotate(31.1 308.8 222.6)"/></g>
<g transform="translate(-1.00 232.70) scale(1.0000 1.0000)"><polygon points="100.0,71.4 134.2,52.8 134.2,82.0 100.0,100.0" fill="#fff" stroke="#000" stroke-width="1.3" stroke-linejoin="round" /><polygon points="88.5,68.4 98.6,73.4 98.6,144.2 88.7,138.2" fill="#fff" stroke="#000" stroke-width="1.7" stroke-linejoin="round" /><polygon points="88.5,68.4 90.7,65.4 123.4,46.1 134.2,52.8 100.0,71.4 98.6,73.4" fill="#fff" stroke="#000" stroke-width="1.7" stroke-linejoin="round" /><line x1="90.7" y1="65.4" x2="100.0" y2="71.4" stroke="#000" stroke-width="1.3" stroke-linecap="round" /><polygon points="143.0,80.8 164.9,67.8 283.2,135.8 260.9,148.6" fill="#fff" stroke="#000" stroke-width="1.7" stroke-linejoin="round" /><polygon points="100.6,71.4 113.7,64.7 233.2,133.6 219.6,140.7" fill="#fff" stroke="#000" stroke-width="1.3" stroke-linejoin="round" /><line x1="142.0" y1="81.0" x2="260.9" y2="149.0" stroke="#000" stroke-width="2.5" stroke-linecap="round" /><polygon points="98.6,73.4 219.6,143.4 219.6,216.2 98.6,145.8" fill="#fff" stroke="#000" stroke-width="1.7" stroke-linejoin="round" /><line x1="100.0" y1="71.4" x2="219.6" y2="140.7" stroke="#000" stroke-width="1.3" stroke-linecap="round" /><line x1="98.6" y1="100.4" x2="220.0" y2="169.8" stroke="#000" stroke-width="1.4" stroke-linecap="round" /><line x1="97.6" y1="118.2" x2="219.8" y2="186.2" stroke="#000" stroke-width="2.9" stroke-linecap="round" /><ellipse cx="108.7" cy="100.8" rx="2.9" ry="4.0" fill="#000" stroke="none" stroke-width="1" transform="rotate(-18 108.7 100.8)"/><ellipse cx="108.3" cy="129.5" rx="2.9" ry="4.0" fill="#000" stroke="none" stroke-width="1" transform="rotate(-18 108.3 129.5)"/><ellipse cx="152.4" cy="125.6" rx="2.9" ry="4.0" fill="#000" stroke="none" stroke-width="1" transform="rotate(-18 152.4 125.6)"/><ellipse cx="152.4" cy="155.5" rx="2.9" ry="4.0" fill="#000" stroke="none" stroke-width="1" transform="rotate(-18 152.4 155.5)"/><ellipse cx="195.5" cy="151.3" rx="2.9" ry="4.0" fill="#000" stroke="none" stroke-width="1" transform="rotate(-18 195.5 151.3)"/><ellipse cx="195.9" cy="180.6" rx="2.9" ry="4.0" fill="#000" stroke="none" stroke-width="1" transform="rotate(-18 195.9 180.6)"/><ellipse cx="109.5" cy="115.3" rx="2.3" ry="3.3" fill="#fff" stroke="#000" stroke-width="1.4" transform="rotate(-20 109.5 115.3)"/><ellipse cx="153.7" cy="140.8" rx="2.3" ry="3.3" fill="#fff" stroke="#000" stroke-width="1.4" transform="rotate(-20 153.7 140.8)"/><ellipse cx="122.2" cy="122.3" rx="4.9" ry="7.0" fill="#fff" stroke="#000" stroke-width="1.6" transform="rotate(-15 122.2 122.3)"/><path d="M119.0,119.9 q-0.8,5.4 4.0,7.6" fill="none" stroke="#000" stroke-width="1.2" stroke-linejoin="round" stroke-linecap="round" /><ellipse cx="172.1" cy="150.7" rx="4.9" ry="7.0" fill="#fff" stroke="#000" stroke-width="1.6" transform="rotate(-15 172.1 150.7)"/><path d="M168.9,148.3 q-0.8,5.4 4.0,7.6" fill="none" stroke="#000" stroke-width="1.2" stroke-linejoin="round" stroke-linecap="round" /><ellipse cx="209.5" cy="172.8" rx="4.9" ry="7.0" fill="#fff" stroke="#000" stroke-width="1.6" transform="rotate(-15 209.5 172.8)"/><path d="M206.3,170.4 q-0.8,5.4 4.0,7.6" fill="none" stroke="#000" stroke-width="1.2" stroke-linejoin="round" stroke-linecap="round" /><polygon points="229.0,133.5 260.9,148.6 260.9,221.2 229.0,203.0" fill="#fff" stroke="#000" stroke-width="1.7" stroke-linejoin="round" /><line x1="230.3" y1="144.8" x2="260.9" y2="160.4" stroke="#000" stroke-width="1.2" stroke-linecap="round" /><line x1="230.3" y1="153.6" x2="260.9" y2="169.0" stroke="#000" stroke-width="2.6" stroke-linecap="round" /><line x1="230.3" y1="183.4" x2="260.9" y2="198.4" stroke="#000" stroke-width="1.2" stroke-linecap="round" /><line x1="230.3" y1="191.8" x2="260.9" y2="207.0" stroke="#000" stroke-width="2.6" stroke-linecap="round" /><line x1="230.3" y1="135.2" x2="260.9" y2="149.4" stroke="#000" stroke-width="2.4" stroke-linecap="round" /><ellipse cx="248.6" cy="178.0" rx="5.4" ry="7.5" fill="#fff" stroke="#000" stroke-width="1.8" transform="rotate(-20 248.6 178.0)"/><path d="M248.6,172.4 q5.0,4.0 4.2,10.6" fill="none" stroke="#000" stroke-width="1.3" stroke-linejoin="round" stroke-linecap="round" /><polygon points="219.6,140.7 233.2,133.8 233.9,139.4 230.3,142.4 230.3,164.2 233.7,167.5 233.7,185.5 230.3,188.7 230.3,201.7 233.7,203.9 233.7,209.7 219.6,216.2" fill="#fff" stroke="#000" stroke-width="1.7" stroke-linejoin="round" /><ellipse cx="179.7" cy="87.7" rx="4.2" ry="2.8" fill="#000" stroke="none" stroke-width="1"/><ellipse cx="257.0" cy="132.3" rx="4.7" ry="3.0" fill="#000" stroke="none" stroke-width="1"/><path d="M129.4,62.2 C124.4,63.4 122.4,69.6 123.0,75.2 C123.6,80.2 125.6,83.0 127.6,83.2 L130.6,83.2 L130.6,62.6 Z" fill="#9a9a9a" stroke="#000" stroke-width="2.0" stroke-linejoin="round" stroke-linecap="round" /><path d="M129.8,64.4 C126.6,66 125.6,71 126.0,75.6" fill="none" stroke="#000" stroke-width="1.2" stroke-linejoin="round" stroke-linecap="round" /><polygon points="126.6,75.2 129.4,76.4 129.4,82.4 126.6,81.2" fill="#c4c4c4" stroke="#000" stroke-width="1.2" stroke-linejoin="round" /><polygon points="128.6,61.2 134.0,63.4 134.0,66.6 128.6,65.4" fill="#000" stroke="#000" stroke-width="1.0" stroke-linejoin="round" /><polygon points="131.7,68.5 167.7,47.8 178.5,54.0 142.5,74.7" fill="#c4c4c4" stroke="#000" stroke-width="1.7" stroke-linejoin="round" /><polygon points="131.7,68.5 142.5,74.7 142.5,94.2 131.7,88.0" fill="#c4c4c4" stroke="#000" stroke-width="1.7" stroke-linejoin="round" /><polygon points="142.5,74.7 178.5,54.0 178.5,73.5 142.5,94.2" fill="#c4c4c4" stroke="#000" stroke-width="1.7" stroke-linejoin="round" /><ellipse cx="158.3" cy="59.3" rx="6.3" ry="3.9" fill="#0a0a0a" stroke="#000" stroke-width="0.6"/><ellipse cx="158.3" cy="59.2" rx="4.7" ry="2.9" fill="none" stroke="#8a8a8a" stroke-width="0.7"/><ellipse cx="158.3" cy="59.2" rx="2.9" ry="1.8" fill="#777" stroke="#000" stroke-width="0.5"/><ellipse cx="158.3" cy="59.2" rx="1.0" ry="0.8" fill="#222" stroke="none" stroke-width="0"/><ellipse cx="168.2" cy="53.6" rx="6.3" ry="3.9" fill="#0a0a0a" stroke="#000" stroke-width="0.6"/><ellipse cx="168.2" cy="53.5" rx="4.7" ry="2.9" fill="none" stroke="#8a8a8a" stroke-width="0.7"/><ellipse cx="168.2" cy="53.5" rx="2.9" ry="1.8" fill="#777" stroke="#000" stroke-width="0.5"/><ellipse cx="168.2" cy="53.5" rx="1.0" ry="0.8" fill="#222" stroke="none" stroke-width="0"/><ellipse cx="150.6" cy="83.6" rx="4.8" ry="6.4" fill="#0a0a0a" stroke="#000" stroke-width="0.6" transform="rotate(30 150.6 83.6)"/><ellipse cx="150.8" cy="83.5" rx="3.4" ry="4.7" fill="none" stroke="#8a8a8a" stroke-width="0.7" transform="rotate(30 150.8 83.5)"/><ellipse cx="150.8" cy="83.5" rx="2.1" ry="3.0" fill="#777" stroke="#000" stroke-width="0.5" transform="rotate(30 150.8 83.5)"/><ellipse cx="150.8" cy="83.5" rx="0.7" ry="1.2" fill="#222" stroke="none" stroke-width="0" transform="rotate(30 150.8 83.5)"/><polygon points="172.1,95.9 182.7,89.8 208.8,104.8 198.2,110.9" fill="#c4c4c4" stroke="#000" stroke-width="1.7" stroke-linejoin="round" /><polygon points="172.1,95.9 198.2,110.9 198.2,127.9 172.1,112.9" fill="#c4c4c4" stroke="#000" stroke-width="1.7" stroke-linejoin="round" /><polygon points="198.2,110.9 208.8,104.8 208.8,121.8 198.2,127.9" fill="#c4c4c4" stroke="#000" stroke-width="1.7" stroke-linejoin="round" /><ellipse cx="185.1" cy="97.3" rx="6.3" ry="3.9" fill="#0a0a0a" stroke="#000" stroke-width="0.6"/><ellipse cx="185.1" cy="97.2" rx="4.7" ry="2.9" fill="none" stroke="#8a8a8a" stroke-width="0.7"/><ellipse cx="185.1" cy="97.2" rx="2.9" ry="1.8" fill="#777" stroke="#000" stroke-width="0.5"/><ellipse cx="185.1" cy="97.2" rx="1.0" ry="0.8" fill="#222" stroke="none" stroke-width="0"/><ellipse cx="196.3" cy="103.7" rx="6.3" ry="3.9" fill="#0a0a0a" stroke="#000" stroke-width="0.6"/><ellipse cx="196.3" cy="103.6" rx="4.7" ry="2.9" fill="none" stroke="#8a8a8a" stroke-width="0.7"/><ellipse cx="196.3" cy="103.6" rx="2.9" ry="1.8" fill="#777" stroke="#000" stroke-width="0.5"/><ellipse cx="196.3" cy="103.6" rx="1.0" ry="0.8" fill="#222" stroke="none" stroke-width="0"/><polygon points="260.9,148.6 283.2,135.8 283.2,208.4 260.9,221.2" fill="#fff" stroke="#000" stroke-width="1.7" stroke-linejoin="round" /><ellipse cx="272.1" cy="161.1" rx="7.4" ry="11.8" fill="#fff" stroke="#000" stroke-width="1.8" transform="rotate(28 272.1 161.1)"/><ellipse cx="271.2" cy="161.8" rx="5.6" ry="10.0" fill="none" stroke="#000" stroke-width="1.1" transform="rotate(28 271.2 161.8)"/><ellipse cx="272.1" cy="192.1" rx="7.4" ry="11.8" fill="#fff" stroke="#000" stroke-width="1.8" transform="rotate(28 272.1 192.1)"/><ellipse cx="271.2" cy="192.8" rx="5.6" ry="10.0" fill="none" stroke="#000" stroke-width="1.1" transform="rotate(28 271.2 192.8)"/><ellipse cx="266.5" cy="151.5" rx="2.9" ry="3.7" fill="#000" stroke="none" stroke-width="1" transform="rotate(25 266.5 151.5)"/><ellipse cx="276.9" cy="145.2" rx="2.9" ry="3.7" fill="#000" stroke="none" stroke-width="1" transform="rotate(25 276.9 145.2)"/><ellipse cx="276.9" cy="175.4" rx="2.9" ry="3.7" fill="#000" stroke="none" stroke-width="1" transform="rotate(25 276.9 175.4)"/><ellipse cx="266.5" cy="181.0" rx="2.9" ry="3.7" fill="#000" stroke="none" stroke-width="1" transform="rotate(25 266.5 181.0)"/><path d="M265.6,216.4 q-0.6,-4.6 3,-4 q2,1.4 -0.6,4 M271.2,213.4 q-0.6,-4.6 3,-4 q2,1.4 -0.6,4" fill="none" stroke="#000" stroke-width="1.3" stroke-linejoin="round" stroke-linecap="round" /></g>
<g transform="translate(420.40 232.30) scale(1.0000 1.0000)"><polygon points="100.0,71.4 134.2,52.8 134.2,82.0 100.0,100.0" fill="#fff" stroke="#000" stroke-width="1.3" stroke-linejoin="round" /><polygon points="88.5,68.4 98.6,73.4 98.6,144.2 88.7,138.2" fill="#fff" stroke="#000" stroke-width="1.7" stroke-linejoin="round" /><polygon points="88.5,68.4 90.7,65.4 123.4,46.1 134.2,52.8 100.0,71.4 98.6,73.4" fill="#fff" stroke="#000" stroke-width="1.7" stroke-linejoin="round" /><line x1="90.7" y1="65.4" x2="100.0" y2="71.4" stroke="#000" stroke-width="1.3" stroke-linecap="round" /><polygon points="143.0,80.8 164.9,67.8 283.2,135.8 260.9,148.6" fill="#fff" stroke="#000" stroke-width="1.7" stroke-linejoin="round" /><polygon points="100.6,71.4 113.7,64.7 233.2,133.6 219.6,140.7" fill="#fff" stroke="#000" stroke-width="1.3" stroke-linejoin="round" /><line x1="142.0" y1="81.0" x2="260.9" y2="149.0" stroke="#000" stroke-width="2.5" stroke-linecap="round" /><polygon points="98.6,73.4 219.6,143.4 219.6,216.2 98.6,145.8" fill="#fff" stroke="#000" stroke-width="1.7" stroke-linejoin="round" /><line x1="100.0" y1="71.4" x2="219.6" y2="140.7" stroke="#000" stroke-width="1.3" stroke-linecap="round" /><line x1="98.6" y1="100.4" x2="220.0" y2="169.8" stroke="#000" stroke-width="1.4" stroke-linecap="round" /><line x1="97.6" y1="118.2" x2="219.8" y2="186.2" stroke="#000" stroke-width="2.9" stroke-linecap="round" /><ellipse cx="108.7" cy="100.8" rx="2.9" ry="4.0" fill="#000" stroke="none" stroke-width="1" transform="rotate(-18 108.7 100.8)"/><ellipse cx="108.3" cy="129.5" rx="2.9" ry="4.0" fill="#000" stroke="none" stroke-width="1" transform="rotate(-18 108.3 129.5)"/><ellipse cx="152.4" cy="125.6" rx="2.9" ry="4.0" fill="#000" stroke="none" stroke-width="1" transform="rotate(-18 152.4 125.6)"/><ellipse cx="152.4" cy="155.5" rx="2.9" ry="4.0" fill="#000" stroke="none" stroke-width="1" transform="rotate(-18 152.4 155.5)"/><ellipse cx="195.5" cy="151.3" rx="2.9" ry="4.0" fill="#000" stroke="none" stroke-width="1" transform="rotate(-18 195.5 151.3)"/><ellipse cx="195.9" cy="180.6" rx="2.9" ry="4.0" fill="#000" stroke="none" stroke-width="1" transform="rotate(-18 195.9 180.6)"/><ellipse cx="109.5" cy="115.3" rx="2.3" ry="3.3" fill="#fff" stroke="#000" stroke-width="1.4" transform="rotate(-20 109.5 115.3)"/><ellipse cx="153.7" cy="140.8" rx="2.3" ry="3.3" fill="#fff" stroke="#000" stroke-width="1.4" transform="rotate(-20 153.7 140.8)"/><ellipse cx="122.2" cy="122.3" rx="4.9" ry="7.0" fill="#fff" stroke="#000" stroke-width="1.6" transform="rotate(-15 122.2 122.3)"/><path d="M119.0,119.9 q-0.8,5.4 4.0,7.6" fill="none" stroke="#000" stroke-width="1.2" stroke-linejoin="round" stroke-linecap="round" /><ellipse cx="172.1" cy="150.7" rx="4.9" ry="7.0" fill="#fff" stroke="#000" stroke-width="1.6" transform="rotate(-15 172.1 150.7)"/><path d="M168.9,148.3 q-0.8,5.4 4.0,7.6" fill="none" stroke="#000" stroke-width="1.2" stroke-linejoin="round" stroke-linecap="round" /><ellipse cx="209.5" cy="172.8" rx="4.9" ry="7.0" fill="#fff" stroke="#000" stroke-width="1.6" transform="rotate(-15 209.5 172.8)"/><path d="M206.3,170.4 q-0.8,5.4 4.0,7.6" fill="none" stroke="#000" stroke-width="1.2" stroke-linejoin="round" stroke-linecap="round" /><polygon points="229.0,133.5 260.9,148.6 260.9,221.2 229.0,203.0" fill="#fff" stroke="#000" stroke-width="1.7" stroke-linejoin="round" /><line x1="230.3" y1="144.8" x2="260.9" y2="160.4" stroke="#000" stroke-width="1.2" stroke-linecap="round" /><line x1="230.3" y1="153.6" x2="260.9" y2="169.0" stroke="#000" stroke-width="2.6" stroke-linecap="round" /><line x1="230.3" y1="183.4" x2="260.9" y2="198.4" stroke="#000" stroke-width="1.2" stroke-linecap="round" /><line x1="230.3" y1="191.8" x2="260.9" y2="207.0" stroke="#000" stroke-width="2.6" stroke-linecap="round" /><line x1="230.3" y1="135.2" x2="260.9" y2="149.4" stroke="#000" stroke-width="2.4" stroke-linecap="round" /><ellipse cx="248.6" cy="178.0" rx="5.4" ry="7.5" fill="#fff" stroke="#000" stroke-width="1.8" transform="rotate(-20 248.6 178.0)"/><path d="M248.6,172.4 q5.0,4.0 4.2,10.6" fill="none" stroke="#000" stroke-width="1.3" stroke-linejoin="round" stroke-linecap="round" /><polygon points="219.6,140.7 233.2,133.8 233.9,139.4 230.3,142.4 230.3,164.2 233.7,167.5 233.7,185.5 230.3,188.7 230.3,201.7 233.7,203.9 233.7,209.7 219.6,216.2" fill="#fff" stroke="#000" stroke-width="1.7" stroke-linejoin="round" /><ellipse cx="179.7" cy="87.7" rx="4.2" ry="2.8" fill="#000" stroke="none" stroke-width="1"/><ellipse cx="257.0" cy="132.3" rx="4.7" ry="3.0" fill="#000" stroke="none" stroke-width="1"/><g transform="translate(2.6 1.0)"><ellipse cx="99.6" cy="56.2" rx="4.5" ry="6.0" fill="#b8b8b8" stroke="#000" stroke-width="1.2" transform="rotate(-149.6 99.6 56.2)"/><polygon points="102.6,51.0 96.6,61.4 90.8,58.0 96.8,47.6" fill="#b8b8b8" stroke="#b8b8b8" stroke-width="0.1" stroke-linejoin="round" /><line x1="102.6" y1="51.0" x2="96.8" y2="47.6" stroke="#000" stroke-width="1.2" stroke-linecap="round" /><line x1="96.6" y1="61.4" x2="90.8" y2="58.0" stroke="#000" stroke-width="1.2" stroke-linecap="round" /><ellipse cx="93.8" cy="52.8" rx="4.5" ry="6.0" fill="#b8b8b8" stroke="#000" stroke-width="1.2" transform="rotate(-149.6 93.8 52.8)"/><polygon points="96.5,48.6 102.8,52.2 96.6,62.6 91.0,58.8" fill="#b8b8b8" stroke="#b8b8b8" stroke-width="0.1" stroke-linejoin="round" /><line x1="96.4" y1="48.0" x2="103.0" y2="51.8" stroke="#000" stroke-width="1.3" stroke-linecap="round" /><line x1="90.6" y1="58.0" x2="96.6" y2="62.0" stroke="#000" stroke-width="1.3" stroke-linecap="round" /><ellipse cx="126.6" cy="72.2" rx="3.5" ry="6.9" fill="#1c1c1c" stroke="#000" stroke-width="1.2" transform="rotate(-149.4 126.6 72.2)"/><polygon points="130.1,66.3 123.1,78.1 96.7,62.5 103.7,50.7" fill="#1c1c1c" stroke="#1c1c1c" stroke-width="0.1" stroke-linejoin="round" /><line x1="130.1" y1="66.3" x2="103.7" y2="50.7" stroke="#000" stroke-width="1.2" stroke-linecap="round" /><line x1="123.1" y1="78.1" x2="96.7" y2="62.5" stroke="#000" stroke-width="1.2" stroke-linecap="round" /><ellipse cx="100.2" cy="56.6" rx="3.5" ry="6.9" fill="#1c1c1c" stroke="#000" stroke-width="1.2" transform="rotate(-149.4 100.2 56.6)"/><path d="M121.3,76.5 A3.5,6.9 -149.4 0 1 127.8,65.5" fill="none" stroke="#707070" stroke-width="0.55"/><path d="M119.3,75.3 A3.5,6.9 -149.4 0 1 125.8,64.3" fill="none" stroke="#707070" stroke-width="0.55"/><path d="M117.3,74.1 A3.5,6.9 -149.4 0 1 123.7,63.1" fill="none" stroke="#707070" stroke-width="0.55"/><path d="M115.2,72.9 A3.5,6.9 -149.4 0 1 121.7,61.9" fill="none" stroke="#707070" stroke-width="0.55"/><path d="M113.2,71.7 A3.5,6.9 -149.4 0 1 119.7,60.7" fill="none" stroke="#707070" stroke-width="0.55"/><path d="M111.2,70.5 A3.5,6.9 -149.4 0 1 117.6,59.5" fill="none" stroke="#707070" stroke-width="0.55"/><path d="M109.2,69.3 A3.5,6.9 -149.4 0 1 115.6,58.3" fill="none" stroke="#707070" stroke-width="0.55"/><path d="M107.1,68.1 A3.5,6.9 -149.4 0 1 113.6,57.1" fill="none" stroke="#707070" stroke-width="0.55"/><path d="M105.1,66.9 A3.5,6.9 -149.4 0 1 111.6,55.9" fill="none" stroke="#707070" stroke-width="0.55"/><path d="M103.1,65.7 A3.5,6.9 -149.4 0 1 109.5,54.7" fill="none" stroke="#707070" stroke-width="0.55"/><path d="M101.0,64.5 A3.5,6.9 -149.4 0 1 107.5,53.5" fill="none" stroke="#707070" stroke-width="0.55"/><path d="M99.0,63.3 A3.5,6.9 -149.4 0 1 105.5,52.3" fill="none" stroke="#707070" stroke-width="0.55"/><polygon points="124.0,66.0 128.4,62.4 132.2,64.4 132.2,80.0 128.6,82.6 124.0,80.2" fill="#d8d8d8" stroke="#000" stroke-width="1.4" stroke-linejoin="round" /><line x1="128.4" y1="70.6" x2="128.6" y2="82.6" stroke="#000" stroke-width="1.0" stroke-linecap="round" /><line x1="124.0" y1="72.0" x2="128.4" y2="70.6" stroke="#000" stroke-width="1.0" stroke-linecap="round" /><line x1="128.4" y1="70.6" x2="132.2" y2="72.2" stroke="#000" stroke-width="1.0" stroke-linecap="round" /><polygon points="124.0,66.0 128.4,62.4 132.2,64.4 128.2,68.6" fill="#bbb" stroke="#000" stroke-width="1.2" stroke-linejoin="round" /></g><polygon points="131.7,68.5 167.7,47.8 178.5,54.0 142.5,74.7" fill="#c4c4c4" stroke="#000" stroke-width="1.7" stroke-linejoin="round" /><polygon points="131.7,68.5 142.5,74.7 142.5,94.2 131.7,88.0" fill="#c4c4c4" stroke="#000" stroke-width="1.7" stroke-linejoin="round" /><polygon points="142.5,74.7 178.5,54.0 178.5,73.5 142.5,94.2" fill="#c4c4c4" stroke="#000" stroke-width="1.7" stroke-linejoin="round" /><ellipse cx="158.3" cy="59.3" rx="6.3" ry="3.9" fill="#0a0a0a" stroke="#000" stroke-width="0.6"/><ellipse cx="158.3" cy="59.2" rx="4.7" ry="2.9" fill="none" stroke="#8a8a8a" stroke-width="0.7"/><ellipse cx="158.3" cy="59.2" rx="2.9" ry="1.8" fill="#777" stroke="#000" stroke-width="0.5"/><ellipse cx="158.3" cy="59.2" rx="1.0" ry="0.8" fill="#222" stroke="none" stroke-width="0"/><ellipse cx="168.2" cy="53.6" rx="6.3" ry="3.9" fill="#0a0a0a" stroke="#000" stroke-width="0.6"/><ellipse cx="168.2" cy="53.5" rx="4.7" ry="2.9" fill="none" stroke="#8a8a8a" stroke-width="0.7"/><ellipse cx="168.2" cy="53.5" rx="2.9" ry="1.8" fill="#777" stroke="#000" stroke-width="0.5"/><ellipse cx="168.2" cy="53.5" rx="1.0" ry="0.8" fill="#222" stroke="none" stroke-width="0"/><ellipse cx="150.6" cy="83.6" rx="4.8" ry="6.4" fill="#0a0a0a" stroke="#000" stroke-width="0.6" transform="rotate(30 150.6 83.6)"/><ellipse cx="150.8" cy="83.5" rx="3.4" ry="4.7" fill="none" stroke="#8a8a8a" stroke-width="0.7" transform="rotate(30 150.8 83.5)"/><ellipse cx="150.8" cy="83.5" rx="2.1" ry="3.0" fill="#777" stroke="#000" stroke-width="0.5" transform="rotate(30 150.8 83.5)"/><ellipse cx="150.8" cy="83.5" rx="0.7" ry="1.2" fill="#222" stroke="none" stroke-width="0" transform="rotate(30 150.8 83.5)"/><polygon points="172.1,95.9 182.7,89.8 208.8,104.8 198.2,110.9" fill="#c4c4c4" stroke="#000" stroke-width="1.7" stroke-linejoin="round" /><polygon points="172.1,95.9 198.2,110.9 198.2,127.9 172.1,112.9" fill="#c4c4c4" stroke="#000" stroke-width="1.7" stroke-linejoin="round" /><polygon points="198.2,110.9 208.8,104.8 208.8,121.8 198.2,127.9" fill="#c4c4c4" stroke="#000" stroke-width="1.7" stroke-linejoin="round" /><ellipse cx="185.1" cy="97.3" rx="6.3" ry="3.9" fill="#0a0a0a" stroke="#000" stroke-width="0.6"/><ellipse cx="185.1" cy="97.2" rx="4.7" ry="2.9" fill="none" stroke="#8a8a8a" stroke-width="0.7"/><ellipse cx="185.1" cy="97.2" rx="2.9" ry="1.8" fill="#777" stroke="#000" stroke-width="0.5"/><ellipse cx="185.1" cy="97.2" rx="1.0" ry="0.8" fill="#222" stroke="none" stroke-width="0"/><ellipse cx="196.3" cy="103.7" rx="6.3" ry="3.9" fill="#0a0a0a" stroke="#000" stroke-width="0.6"/><ellipse cx="196.3" cy="103.6" rx="4.7" ry="2.9" fill="none" stroke="#8a8a8a" stroke-width="0.7"/><ellipse cx="196.3" cy="103.6" rx="2.9" ry="1.8" fill="#777" stroke="#000" stroke-width="0.5"/><ellipse cx="196.3" cy="103.6" rx="1.0" ry="0.8" fill="#222" stroke="none" stroke-width="0"/><polygon points="260.9,148.6 283.2,135.8 283.2,208.4 260.9,221.2" fill="#fff" stroke="#000" stroke-width="1.7" stroke-linejoin="round" /><ellipse cx="272.1" cy="161.1" rx="7.4" ry="11.8" fill="#fff" stroke="#000" stroke-width="1.8" transform="rotate(28 272.1 161.1)"/><ellipse cx="271.2" cy="161.8" rx="5.6" ry="10.0" fill="none" stroke="#000" stroke-width="1.1" transform="rotate(28 271.2 161.8)"/><ellipse cx="272.1" cy="192.1" rx="7.4" ry="11.8" fill="#fff" stroke="#000" stroke-width="1.8" transform="rotate(28 272.1 192.1)"/><ellipse cx="271.2" cy="192.8" rx="5.6" ry="10.0" fill="none" stroke="#000" stroke-width="1.1" transform="rotate(28 271.2 192.8)"/><ellipse cx="266.5" cy="151.5" rx="2.9" ry="3.7" fill="#000" stroke="none" stroke-width="1" transform="rotate(25 266.5 151.5)"/><ellipse cx="276.9" cy="145.2" rx="2.9" ry="3.7" fill="#000" stroke="none" stroke-width="1" transform="rotate(25 276.9 145.2)"/><ellipse cx="276.9" cy="175.4" rx="2.9" ry="3.7" fill="#000" stroke="none" stroke-width="1" transform="rotate(25 276.9 175.4)"/><ellipse cx="266.5" cy="181.0" rx="2.9" ry="3.7" fill="#000" stroke="none" stroke-width="1" transform="rotate(25 266.5 181.0)"/><path d="M265.6,216.4 q-0.6,-4.6 3,-4 q2,1.4 -0.6,4 M271.2,213.4 q-0.6,-4.6 3,-4 q2,1.4 -0.6,4" fill="none" stroke="#000" stroke-width="1.3" stroke-linejoin="round" stroke-linecap="round" /></g>
<g transform="translate(-20.00 462.00) scale(1.0040 1.0080)"><polygon points="100.0,71.4 134.2,52.8 134.2,82.0 100.0,100.0" fill="#fff" stroke="#000" stroke-width="1.3" stroke-linejoin="round" /><polygon points="88.5,68.4 98.6,73.4 98.6,144.2 88.7,138.2" fill="#fff" stroke="#000" stroke-width="1.7" stroke-linejoin="round" /><polygon points="88.5,68.4 90.7,65.4 123.4,46.1 134.2,52.8 100.0,71.4 98.6,73.4" fill="#fff" stroke="#000" stroke-width="1.7" stroke-linejoin="round" /><line x1="90.7" y1="65.4" x2="100.0" y2="71.4" stroke="#000" stroke-width="1.3" stroke-linecap="round" /><polygon points="143.0,80.8 164.9,67.8 283.2,135.8 260.9,148.6" fill="#fff" stroke="#000" stroke-width="1.7" stroke-linejoin="round" /><polygon points="100.6,71.4 113.7,64.7 233.2,133.6 219.6,140.7" fill="#fff" stroke="#000" stroke-width="1.3" stroke-linejoin="round" /><line x1="142.0" y1="81.0" x2="260.9" y2="149.0" stroke="#000" stroke-width="2.5" stroke-linecap="round" /><polygon points="98.6,73.4 219.6,143.4 219.6,216.2 98.6,145.8" fill="#fff" stroke="#000" stroke-width="1.7" stroke-linejoin="round" /><line x1="100.0" y1="71.4" x2="219.6" y2="140.7" stroke="#000" stroke-width="1.3" stroke-linecap="round" /><line x1="98.6" y1="100.4" x2="220.0" y2="169.8" stroke="#000" stroke-width="1.4" stroke-linecap="round" /><line x1="97.6" y1="118.2" x2="219.8" y2="186.2" stroke="#000" stroke-width="2.9" stroke-linecap="round" /><ellipse cx="108.7" cy="100.8" rx="2.9" ry="4.0" fill="#000" stroke="none" stroke-width="1" transform="rotate(-18 108.7 100.8)"/><ellipse cx="108.3" cy="129.5" rx="2.9" ry="4.0" fill="#000" stroke="none" stroke-width="1" transform="rotate(-18 108.3 129.5)"/><ellipse cx="152.4" cy="125.6" rx="2.9" ry="4.0" fill="#000" stroke="none" stroke-width="1" transform="rotate(-18 152.4 125.6)"/><ellipse cx="152.4" cy="155.5" rx="2.9" ry="4.0" fill="#000" stroke="none" stroke-width="1" transform="rotate(-18 152.4 155.5)"/><ellipse cx="195.5" cy="151.3" rx="2.9" ry="4.0" fill="#000" stroke="none" stroke-width="1" transform="rotate(-18 195.5 151.3)"/><ellipse cx="195.9" cy="180.6" rx="2.9" ry="4.0" fill="#000" stroke="none" stroke-width="1" transform="rotate(-18 195.9 180.6)"/><ellipse cx="109.5" cy="115.3" rx="2.3" ry="3.3" fill="#fff" stroke="#000" stroke-width="1.4" transform="rotate(-20 109.5 115.3)"/><ellipse cx="153.7" cy="140.8" rx="2.3" ry="3.3" fill="#fff" stroke="#000" stroke-width="1.4" transform="rotate(-20 153.7 140.8)"/><ellipse cx="122.2" cy="122.3" rx="4.9" ry="7.0" fill="#fff" stroke="#000" stroke-width="1.6" transform="rotate(-15 122.2 122.3)"/><path d="M119.0,119.9 q-0.8,5.4 4.0,7.6" fill="none" stroke="#000" stroke-width="1.2" stroke-linejoin="round" stroke-linecap="round" /><ellipse cx="172.1" cy="150.7" rx="4.9" ry="7.0" fill="#fff" stroke="#000" stroke-width="1.6" transform="rotate(-15 172.1 150.7)"/><path d="M168.9,148.3 q-0.8,5.4 4.0,7.6" fill="none" stroke="#000" stroke-width="1.2" stroke-linejoin="round" stroke-linecap="round" /><ellipse cx="209.5" cy="172.8" rx="4.9" ry="7.0" fill="#fff" stroke="#000" stroke-width="1.6" transform="rotate(-15 209.5 172.8)"/><path d="M206.3,170.4 q-0.8,5.4 4.0,7.6" fill="none" stroke="#000" stroke-width="1.2" stroke-linejoin="round" stroke-linecap="round" /><polygon points="229.0,133.5 260.9,148.6 260.9,221.2 229.0,203.0" fill="#fff" stroke="#000" stroke-width="1.7" stroke-linejoin="round" /><line x1="230.3" y1="144.8" x2="260.9" y2="160.4" stroke="#000" stroke-width="1.2" stroke-linecap="round" /><line x1="230.3" y1="153.6" x2="260.9" y2="169.0" stroke="#000" stroke-width="2.6" stroke-linecap="round" /><line x1="230.3" y1="183.4" x2="260.9" y2="198.4" stroke="#000" stroke-width="1.2" stroke-linecap="round" /><line x1="230.3" y1="191.8" x2="260.9" y2="207.0" stroke="#000" stroke-width="2.6" stroke-linecap="round" /><line x1="230.3" y1="135.2" x2="260.9" y2="149.4" stroke="#000" stroke-width="2.4" stroke-linecap="round" /><ellipse cx="248.6" cy="178.0" rx="5.4" ry="7.5" fill="#fff" stroke="#000" stroke-width="1.8" transform="rotate(-20 248.6 178.0)"/><path d="M248.6,172.4 q5.0,4.0 4.2,10.6" fill="none" stroke="#000" stroke-width="1.3" stroke-linejoin="round" stroke-linecap="round" /><polygon points="219.6,140.7 233.2,133.8 233.9,139.4 230.3,142.4 230.3,164.2 233.7,167.5 233.7,185.5 230.3,188.7 230.3,201.7 233.7,203.9 233.7,209.7 219.6,216.2" fill="#fff" stroke="#000" stroke-width="1.7" stroke-linejoin="round" /><ellipse cx="226.9" cy="175.0" rx="2.8" ry="5.0" fill="#fff" stroke="#000" stroke-width="1.5" transform="rotate(22 226.9 175.0)"/><ellipse cx="179.7" cy="87.7" rx="4.2" ry="2.8" fill="#000" stroke="none" stroke-width="1"/><ellipse cx="257.0" cy="132.3" rx="4.7" ry="3.0" fill="#000" stroke="none" stroke-width="1"/><ellipse cx="132.0" cy="73.4" rx="2.6" ry="2.0" fill="#ddd" stroke="#000" stroke-width="1.2"/><line x1="157.6" y1="87.6" x2="177.7" y2="75.4" stroke="#000" stroke-width="1.4" stroke-linecap="round" /><line x1="142.6" y1="80.2" x2="164.4" y2="67.2" stroke="#000" stroke-width="2.8" stroke-linecap="round" /><line x1="134.4" y1="76.4" x2="143.0" y2="81.2" stroke="#000" stroke-width="2.6" stroke-linecap="round" /><ellipse cx="157.9" cy="82.3" rx="3.4" ry="2.4" fill="#000" stroke="none" stroke-width="1"/><ellipse cx="167.8" cy="76.3" rx="3.4" ry="2.4" fill="#000" stroke="none" stroke-width="1"/><polygon points="174.8,112.2 182.9,107.6 208.5,122.2 200.4,127.0" fill="#fff" stroke="#000" stroke-width="1.4" stroke-linejoin="round" /><line x1="182.9" y1="107.6" x2="208.5" y2="122.2" stroke="#000" stroke-width="2.4" stroke-linecap="round" /><ellipse cx="185.7" cy="115.6" rx="3.4" ry="2.4" fill="#000" stroke="none" stroke-width="1"/><ellipse cx="196.6" cy="121.9" rx="3.4" ry="2.4" fill="#000" stroke="none" stroke-width="1"/><polygon points="260.9,205.0 284.6,192.0 284.6,208.5 262.0,222.8 260.9,221.2" fill="#fff" stroke="#000" stroke-width="1.7" stroke-linejoin="round" /><path d="M267,219.6 v-4.4 q2,-2.6 3.4,0 M272.4,216.4 v-4.2" fill="none" stroke="#000" stroke-width="1.2" stroke-linejoin="round" stroke-linecap="round" /><polygon points="274.2,156.6 296.3,144.4 296.3,186.6 281.0,195.4 274.2,198.8" fill="#c4c4c4" stroke="#000" stroke-width="1.7" stroke-linejoin="round" /><path d="M262.3,148.6 L274.2,156.6 L274.2,176 Q273.5,184 259,192.6 L246.6,186.4 Q261.5,180 262.3,170.4 Z" fill="#c4c4c4" stroke="#000" stroke-width="1.7" stroke-linejoin="round" stroke-linecap="round" /><path d="M262.3,170.4 Q266,175 274.2,176" fill="none" stroke="#000" stroke-width="1.1" stroke-linejoin="round" stroke-linecap="round" /><polygon points="262.6,148.4 283.4,136.4 296.3,144.4 274.4,156.4" fill="#c4c4c4" stroke="#000" stroke-width="1.7" stroke-linejoin="round" /><line x1="263.0" y1="150.8" x2="273.6" y2="158.4" stroke="#000" stroke-width="1.0" stroke-linecap="round" /><ellipse cx="279.6" cy="159.5" rx="4.3" ry="5.8" fill="#0a0a0a" stroke="#000" stroke-width="0.6" transform="rotate(30 279.6 159.5)"/><ellipse cx="279.8" cy="159.4" rx="3.1" ry="4.2" fill="none" stroke="#8a8a8a" stroke-width="0.7" transform="rotate(30 279.8 159.4)"/><ellipse cx="279.8" cy="159.4" rx="1.9" ry="2.7" fill="#777" stroke="#000" stroke-width="0.5" transform="rotate(30 279.8 159.4)"/><ellipse cx="279.8" cy="159.4" rx="0.7" ry="1.1" fill="#222" stroke="none" stroke-width="0" transform="rotate(30 279.8 159.4)"/><ellipse cx="290.6" cy="152.6" rx="4.3" ry="5.8" fill="#0a0a0a" stroke="#000" stroke-width="0.6" transform="rotate(30 290.6 152.6)"/><ellipse cx="290.8" cy="152.5" rx="3.1" ry="4.2" fill="none" stroke="#8a8a8a" stroke-width="0.7" transform="rotate(30 290.8 152.5)"/><ellipse cx="290.8" cy="152.5" rx="1.9" ry="2.7" fill="#777" stroke="#000" stroke-width="0.5" transform="rotate(30 290.8 152.5)"/><ellipse cx="290.8" cy="152.5" rx="0.7" ry="1.1" fill="#222" stroke="none" stroke-width="0" transform="rotate(30 290.8 152.5)"/><ellipse cx="281.0" cy="187.2" rx="4.3" ry="5.8" fill="#0a0a0a" stroke="#000" stroke-width="0.6" transform="rotate(30 281.0 187.2)"/><ellipse cx="281.2" cy="187.1" rx="3.1" ry="4.2" fill="none" stroke="#8a8a8a" stroke-width="0.7" transform="rotate(30 281.2 187.1)"/><ellipse cx="281.2" cy="187.1" rx="1.9" ry="2.7" fill="#777" stroke="#000" stroke-width="0.5" transform="rotate(30 281.2 187.1)"/><ellipse cx="281.2" cy="187.1" rx="0.7" ry="1.1" fill="#222" stroke="none" stroke-width="0" transform="rotate(30 281.2 187.1)"/><ellipse cx="290.6" cy="181.6" rx="4.3" ry="5.8" fill="#0a0a0a" stroke="#000" stroke-width="0.6" transform="rotate(30 290.6 181.6)"/><ellipse cx="290.8" cy="181.5" rx="3.1" ry="4.2" fill="none" stroke="#8a8a8a" stroke-width="0.7" transform="rotate(30 290.8 181.5)"/><ellipse cx="290.8" cy="181.5" rx="1.9" ry="2.7" fill="#777" stroke="#000" stroke-width="0.5" transform="rotate(30 290.8 181.5)"/><ellipse cx="290.8" cy="181.5" rx="0.7" ry="1.1" fill="#222" stroke="none" stroke-width="0" transform="rotate(30 290.8 181.5)"/><polygon points="246.6,186.6 259.2,192.8 259.2,208.6 246.6,201.6" fill="#c4c4c4" stroke="#000" stroke-width="1.6" stroke-linejoin="round" /><polygon points="270.0,190.0 263.4,189.4 256.8,197.6 256.8,206.4 263.4,207.0 270.0,198.8" fill="#d4d4d4" stroke="#000" stroke-width="1.3" stroke-linejoin="round" /><polygon points="270.0,190.0 263.4,189.4 267.8,191.9 274.4,192.5" fill="#d4d4d4" stroke="#000" stroke-width="1.2" stroke-linejoin="round" /><polygon points="263.4,189.4 256.8,197.6 261.2,200.1 267.8,191.9" fill="#d4d4d4" stroke="#000" stroke-width="1.2" stroke-linejoin="round" /><polygon points="256.8,197.6 256.8,206.4 261.2,208.9 261.2,200.1" fill="#d4d4d4" stroke="#000" stroke-width="1.2" stroke-linejoin="round" /><polygon points="256.8,206.4 263.4,207.0 267.8,209.5 261.2,208.9" fill="#d4d4d4" stroke="#000" stroke-width="1.2" stroke-linejoin="round" /><polygon points="263.4,207.0 270.0,198.8 274.4,201.3 267.8,209.5" fill="#d4d4d4" stroke="#000" stroke-width="1.2" stroke-linejoin="round" /><polygon points="270.0,198.8 270.0,190.0 274.4,192.5 274.4,201.3" fill="#d4d4d4" stroke="#000" stroke-width="1.2" stroke-linejoin="round" /><polygon points="274.4,192.5 267.8,191.9 261.2,200.1 261.2,208.9 267.8,209.5 274.4,201.3" fill="#d4d4d4" stroke="#000" stroke-width="1.3" stroke-linejoin="round" /><ellipse cx="270.0" cy="200.4" rx="4.5" ry="9.0" fill="#161616" stroke="#000" stroke-width="1.2" transform="rotate(30.5 270.0 200.4)"/><polygon points="265.4,208.2 274.6,192.6 282.4,197.2 273.2,212.8" fill="#161616" stroke="#161616" stroke-width="0.1" stroke-linejoin="round" /><line x1="265.4" y1="208.2" x2="273.2" y2="212.8" stroke="#000" stroke-width="1.2" stroke-linecap="round" /><line x1="274.6" y1="192.6" x2="282.4" y2="197.2" stroke="#000" stroke-width="1.2" stroke-linecap="round" /><ellipse cx="277.8" cy="205.0" rx="4.5" ry="9.0" fill="#161616" stroke="#000" stroke-width="1.2" transform="rotate(30.5 277.8 205.0)"/><path d="M275.8,194.2 A4.5,9.0 30.5 0 1 267.4,208.5" fill="none" stroke="#707070" stroke-width="0.55"/><path d="M277.3,195.1 A4.5,9.0 30.5 0 1 268.9,209.4" fill="none" stroke="#707070" stroke-width="0.55"/><path d="M278.9,196.0 A4.5,9.0 30.5 0 1 270.5,210.3" fill="none" stroke="#707070" stroke-width="0.55"/><path d="M280.4,196.9 A4.5,9.0 30.5 0 1 272.0,211.2" fill="none" stroke="#707070" stroke-width="0.55"/><ellipse cx="278.2" cy="205.4" rx="2.4" ry="4.2" fill="#777" stroke="#000" stroke-width="1.0" transform="rotate(30 278.2 205.4)"/><path d="M281.8,198.6 q3.4,3.6 1.8,10.6 l-3.4,2.0" fill="none" stroke="#000" stroke-width="1.3" stroke-linejoin="round" stroke-linecap="round" /></g>
<g transform="translate(368.20 464.60) scale(0.9780 0.9850)"><polygon points="100.0,71.4 134.2,52.8 134.2,82.0 100.0,100.0" fill="#fff" stroke="#000" stroke-width="1.3" stroke-linejoin="round" /><polygon points="88.5,68.4 98.6,73.4 98.6,144.2 88.7,138.2" fill="#fff" stroke="#000" stroke-width="1.7" stroke-linejoin="round" /><polygon points="88.5,68.4 90.7,65.4 123.4,46.1 134.2,52.8 100.0,71.4 98.6,73.4" fill="#fff" stroke="#000" stroke-width="1.7" stroke-linejoin="round" /><line x1="90.7" y1="65.4" x2="100.0" y2="71.4" stroke="#000" stroke-width="1.3" stroke-linecap="round" /><polygon points="143.0,80.8 164.9,67.8 283.2,135.8 260.9,148.6" fill="#fff" stroke="#000" stroke-width="1.7" stroke-linejoin="round" /><polygon points="100.6,71.4 113.7,64.7 233.2,133.6 219.6,140.7" fill="#fff" stroke="#000" stroke-width="1.3" stroke-linejoin="round" /><line x1="142.0" y1="81.0" x2="260.9" y2="149.0" stroke="#000" stroke-width="2.5" stroke-linecap="round" /><polygon points="98.6,73.4 219.6,143.4 219.6,216.2 98.6,145.8" fill="#fff" stroke="#000" stroke-width="1.7" stroke-linejoin="round" /><line x1="100.0" y1="71.4" x2="219.6" y2="140.7" stroke="#000" stroke-width="1.3" stroke-linecap="round" /><line x1="98.6" y1="100.4" x2="220.0" y2="169.8" stroke="#000" stroke-width="1.4" stroke-linecap="round" /><line x1="97.6" y1="118.2" x2="219.8" y2="186.2" stroke="#000" stroke-width="2.9" stroke-linecap="round" /><ellipse cx="108.7" cy="100.8" rx="2.9" ry="4.0" fill="#000" stroke="none" stroke-width="1" transform="rotate(-18 108.7 100.8)"/><ellipse cx="108.3" cy="129.5" rx="2.9" ry="4.0" fill="#000" stroke="none" stroke-width="1" transform="rotate(-18 108.3 129.5)"/><ellipse cx="152.4" cy="125.6" rx="2.9" ry="4.0" fill="#000" stroke="none" stroke-width="1" transform="rotate(-18 152.4 125.6)"/><ellipse cx="152.4" cy="155.5" rx="2.9" ry="4.0" fill="#000" stroke="none" stroke-width="1" transform="rotate(-18 152.4 155.5)"/><ellipse cx="195.5" cy="151.3" rx="2.9" ry="4.0" fill="#000" stroke="none" stroke-width="1" transform="rotate(-18 195.5 151.3)"/><ellipse cx="195.9" cy="180.6" rx="2.9" ry="4.0" fill="#000" stroke="none" stroke-width="1" transform="rotate(-18 195.9 180.6)"/><ellipse cx="109.5" cy="115.3" rx="2.3" ry="3.3" fill="#fff" stroke="#000" stroke-width="1.4" transform="rotate(-20 109.5 115.3)"/><ellipse cx="153.7" cy="140.8" rx="2.3" ry="3.3" fill="#fff" stroke="#000" stroke-width="1.4" transform="rotate(-20 153.7 140.8)"/><ellipse cx="122.2" cy="122.3" rx="4.9" ry="7.0" fill="#fff" stroke="#000" stroke-width="1.6" transform="rotate(-15 122.2 122.3)"/><path d="M119.0,119.9 q-0.8,5.4 4.0,7.6" fill="none" stroke="#000" stroke-width="1.2" stroke-linejoin="round" stroke-linecap="round" /><ellipse cx="172.1" cy="150.7" rx="4.9" ry="7.0" fill="#fff" stroke="#000" stroke-width="1.6" transform="rotate(-15 172.1 150.7)"/><path d="M168.9,148.3 q-0.8,5.4 4.0,7.6" fill="none" stroke="#000" stroke-width="1.2" stroke-linejoin="round" stroke-linecap="round" /><ellipse cx="209.5" cy="172.8" rx="4.9" ry="7.0" fill="#fff" stroke="#000" stroke-width="1.6" transform="rotate(-15 209.5 172.8)"/><path d="M206.3,170.4 q-0.8,5.4 4.0,7.6" fill="none" stroke="#000" stroke-width="1.2" stroke-linejoin="round" stroke-linecap="round" /><polygon points="229.0,133.5 260.9,148.6 260.9,221.2 229.0,203.0" fill="#fff" stroke="#000" stroke-width="1.7" stroke-linejoin="round" /><line x1="230.3" y1="144.8" x2="260.9" y2="160.4" stroke="#000" stroke-width="1.2" stroke-linecap="round" /><line x1="230.3" y1="153.6" x2="260.9" y2="169.0" stroke="#000" stroke-width="2.6" stroke-linecap="round" /><line x1="230.3" y1="183.4" x2="260.9" y2="198.4" stroke="#000" stroke-width="1.2" stroke-linecap="round" /><line x1="230.3" y1="191.8" x2="260.9" y2="207.0" stroke="#000" stroke-width="2.6" stroke-linecap="round" /><line x1="230.3" y1="135.2" x2="260.9" y2="149.4" stroke="#000" stroke-width="2.4" stroke-linecap="round" /><ellipse cx="248.6" cy="178.0" rx="5.4" ry="7.5" fill="#fff" stroke="#000" stroke-width="1.8" transform="rotate(-20 248.6 178.0)"/><path d="M248.6,172.4 q5.0,4.0 4.2,10.6" fill="none" stroke="#000" stroke-width="1.3" stroke-linejoin="round" stroke-linecap="round" /><polygon points="219.6,140.7 233.2,133.8 233.9,139.4 230.3,142.4 230.3,164.2 233.7,167.5 233.7,185.5 230.3,188.7 230.3,201.7 233.7,203.9 233.7,209.7 219.6,216.2" fill="#fff" stroke="#000" stroke-width="1.7" stroke-linejoin="round" /><ellipse cx="226.9" cy="175.0" rx="2.8" ry="5.0" fill="#fff" stroke="#000" stroke-width="1.5" transform="rotate(22 226.9 175.0)"/><ellipse cx="179.7" cy="87.7" rx="4.2" ry="2.8" fill="#000" stroke="none" stroke-width="1"/><ellipse cx="257.0" cy="132.3" rx="4.7" ry="3.0" fill="#000" stroke="none" stroke-width="1"/><ellipse cx="132.0" cy="73.4" rx="2.6" ry="2.0" fill="#ddd" stroke="#000" stroke-width="1.2"/><line x1="157.6" y1="87.6" x2="177.7" y2="75.4" stroke="#000" stroke-width="1.4" stroke-linecap="round" /><line x1="142.6" y1="80.2" x2="164.4" y2="67.2" stroke="#000" stroke-width="2.8" stroke-linecap="round" /><line x1="134.4" y1="76.4" x2="143.0" y2="81.2" stroke="#000" stroke-width="2.6" stroke-linecap="round" /><ellipse cx="157.9" cy="82.3" rx="3.4" ry="2.4" fill="#000" stroke="none" stroke-width="1"/><ellipse cx="167.8" cy="76.3" rx="3.4" ry="2.4" fill="#000" stroke="none" stroke-width="1"/><polygon points="174.8,112.2 182.9,107.6 208.5,122.2 200.4,127.0" fill="#fff" stroke="#000" stroke-width="1.4" stroke-linejoin="round" /><line x1="182.9" y1="107.6" x2="208.5" y2="122.2" stroke="#000" stroke-width="2.4" stroke-linecap="round" /><ellipse cx="185.7" cy="115.6" rx="3.4" ry="2.4" fill="#000" stroke="none" stroke-width="1"/><ellipse cx="196.6" cy="121.9" rx="3.4" ry="2.4" fill="#000" stroke="none" stroke-width="1"/><polygon points="260.9,205.0 284.6,192.0 284.6,208.5 262.0,222.8 260.9,221.2" fill="#fff" stroke="#000" stroke-width="1.7" stroke-linejoin="round" /><path d="M267,219.6 v-4.4 q2,-2.6 3.4,0 M272.4,216.4 v-4.2" fill="none" stroke="#000" stroke-width="1.2" stroke-linejoin="round" stroke-linecap="round" /><polygon points="274.2,156.6 296.3,144.4 296.3,186.6 281.0,195.4 274.2,198.8" fill="#c4c4c4" stroke="#000" stroke-width="1.7" stroke-linejoin="round" /><path d="M262.3,148.6 L274.2,156.6 L274.2,176 Q273.5,184 259,192.6 L246.6,186.4 Q261.5,180 262.3,170.4 Z" fill="#c4c4c4" stroke="#000" stroke-width="1.7" stroke-linejoin="round" stroke-linecap="round" /><path d="M262.3,170.4 Q266,175 274.2,176" fill="none" stroke="#000" stroke-width="1.1" stroke-linejoin="round" stroke-linecap="round" /><polygon points="262.6,148.4 283.4,136.4 296.3,144.4 274.4,156.4" fill="#c4c4c4" stroke="#000" stroke-width="1.7" stroke-linejoin="round" /><line x1="263.0" y1="150.8" x2="273.6" y2="158.4" stroke="#000" stroke-width="1.0" stroke-linecap="round" /><ellipse cx="279.6" cy="159.5" rx="4.3" ry="5.8" fill="#0a0a0a" stroke="#000" stroke-width="0.6" transform="rotate(30 279.6 159.5)"/><ellipse cx="279.8" cy="159.4" rx="3.1" ry="4.2" fill="none" stroke="#8a8a8a" stroke-width="0.7" transform="rotate(30 279.8 159.4)"/><ellipse cx="279.8" cy="159.4" rx="1.9" ry="2.7" fill="#777" stroke="#000" stroke-width="0.5" transform="rotate(30 279.8 159.4)"/><ellipse cx="279.8" cy="159.4" rx="0.7" ry="1.1" fill="#222" stroke="none" stroke-width="0" transform="rotate(30 279.8 159.4)"/><ellipse cx="290.6" cy="152.6" rx="4.3" ry="5.8" fill="#0a0a0a" stroke="#000" stroke-width="0.6" transform="rotate(30 290.6 152.6)"/><ellipse cx="290.8" cy="152.5" rx="3.1" ry="4.2" fill="none" stroke="#8a8a8a" stroke-width="0.7" transform="rotate(30 290.8 152.5)"/><ellipse cx="290.8" cy="152.5" rx="1.9" ry="2.7" fill="#777" stroke="#000" stroke-width="0.5" transform="rotate(30 290.8 152.5)"/><ellipse cx="290.8" cy="152.5" rx="0.7" ry="1.1" fill="#222" stroke="none" stroke-width="0" transform="rotate(30 290.8 152.5)"/><ellipse cx="281.0" cy="187.2" rx="4.3" ry="5.8" fill="#0a0a0a" stroke="#000" stroke-width="0.6" transform="rotate(30 281.0 187.2)"/><ellipse cx="281.2" cy="187.1" rx="3.1" ry="4.2" fill="none" stroke="#8a8a8a" stroke-width="0.7" transform="rotate(30 281.2 187.1)"/><ellipse cx="281.2" cy="187.1" rx="1.9" ry="2.7" fill="#777" stroke="#000" stroke-width="0.5" transform="rotate(30 281.2 187.1)"/><ellipse cx="281.2" cy="187.1" rx="0.7" ry="1.1" fill="#222" stroke="none" stroke-width="0" transform="rotate(30 281.2 187.1)"/><ellipse cx="290.6" cy="181.6" rx="4.3" ry="5.8" fill="#0a0a0a" stroke="#000" stroke-width="0.6" transform="rotate(30 290.6 181.6)"/><ellipse cx="290.8" cy="181.5" rx="3.1" ry="4.2" fill="none" stroke="#8a8a8a" stroke-width="0.7" transform="rotate(30 290.8 181.5)"/><ellipse cx="290.8" cy="181.5" rx="1.9" ry="2.7" fill="#777" stroke="#000" stroke-width="0.5" transform="rotate(30 290.8 181.5)"/><ellipse cx="290.8" cy="181.5" rx="0.7" ry="1.1" fill="#222" stroke="none" stroke-width="0" transform="rotate(30 290.8 181.5)"/><polygon points="246.6,186.6 259.2,192.8 259.2,208.6 246.6,201.6" fill="#c4c4c4" stroke="#000" stroke-width="1.6" stroke-linejoin="round" /><polygon points="269.8,188.8 262.8,188.2 255.8,197.0 255.8,206.4 262.8,207.0 269.8,198.2" fill="#d4d4d4" stroke="#000" stroke-width="1.3" stroke-linejoin="round" /><polygon points="269.8,188.8 262.8,188.2 267.2,190.7 274.2,191.4" fill="#d4d4d4" stroke="#000" stroke-width="1.2" stroke-linejoin="round" /><polygon points="262.8,188.2 255.8,197.0 260.2,199.5 267.2,190.7" fill="#d4d4d4" stroke="#000" stroke-width="1.2" stroke-linejoin="round" /><polygon points="255.8,197.0 255.8,206.4 260.2,208.9 260.2,199.5" fill="#d4d4d4" stroke="#000" stroke-width="1.2" stroke-linejoin="round" /><polygon points="255.8,206.4 262.8,207.0 267.2,209.5 260.2,208.9" fill="#d4d4d4" stroke="#000" stroke-width="1.2" stroke-linejoin="round" /><polygon points="262.8,207.0 269.8,198.2 274.2,200.8 267.2,209.5" fill="#d4d4d4" stroke="#000" stroke-width="1.2" stroke-linejoin="round" /><polygon points="269.8,198.2 269.8,188.8 274.2,191.4 274.2,200.8" fill="#d4d4d4" stroke="#000" stroke-width="1.2" stroke-linejoin="round" /><polygon points="274.2,191.4 267.2,190.7 260.2,199.5 260.2,208.9 267.2,209.5 274.2,200.8" fill="#d4d4d4" stroke="#000" stroke-width="1.3" stroke-linejoin="round" /><polygon points="275.1,192.4 268.4,191.8 261.7,200.2 261.7,209.2 268.4,209.8 275.1,201.4" fill="#d4d4d4" stroke="#000" stroke-width="1.3" stroke-linejoin="round" /><polygon points="275.1,192.4 268.4,191.8 272.0,193.9 278.7,194.5" fill="#d4d4d4" stroke="#000" stroke-width="1.2" stroke-linejoin="round" /><polygon points="268.4,191.8 261.7,200.2 265.3,202.3 272.0,193.9" fill="#d4d4d4" stroke="#000" stroke-width="1.2" stroke-linejoin="round" /><polygon points="261.7,200.2 261.7,209.2 265.3,211.3 265.3,202.3" fill="#d4d4d4" stroke="#000" stroke-width="1.2" stroke-linejoin="round" /><polygon points="261.7,209.2 268.4,209.8 272.0,211.9 265.3,211.3" fill="#d4d4d4" stroke="#000" stroke-width="1.2" stroke-linejoin="round" /><polygon points="268.4,209.8 275.1,201.4 278.7,203.5 272.0,211.9" fill="#d4d4d4" stroke="#000" stroke-width="1.2" stroke-linejoin="round" /><polygon points="275.1,201.4 275.1,192.4 278.7,194.5 278.7,203.5" fill="#d4d4d4" stroke="#000" stroke-width="1.2" stroke-linejoin="round" /><polygon points="278.7,194.5 272.0,193.9 265.3,202.3 265.3,211.3 272.0,211.9 278.7,203.5" fill="#d4d4d4" stroke="#000" stroke-width="1.3" stroke-linejoin="round" /><ellipse cx="274.0" cy="201.8" rx="3.9" ry="7.7" fill="#161616" stroke="#000" stroke-width="1.2" transform="rotate(30.8 274.0 201.8)"/><polygon points="270.1,208.4 277.9,195.2 304.4,211.0 296.6,224.2" fill="#161616" stroke="#161616" stroke-width="0.1" stroke-linejoin="round" /><line x1="270.1" y1="208.4" x2="296.6" y2="224.2" stroke="#000" stroke-width="1.2" stroke-linecap="round" /><line x1="277.9" y1="195.2" x2="304.4" y2="211.0" stroke="#000" stroke-width="1.2" stroke-linecap="round" /><ellipse cx="300.5" cy="217.6" rx="3.9" ry="7.7" fill="#161616" stroke="#000" stroke-width="1.2" transform="rotate(30.8 300.5 217.6)"/><path d="M279.7,196.9 A3.9,7.7 30.8 0 1 272.4,209.1" fill="none" stroke="#707070" stroke-width="0.55"/><path d="M281.7,198.1 A3.9,7.7 30.8 0 1 274.4,210.3" fill="none" stroke="#707070" stroke-width="0.55"/><path d="M283.7,199.4 A3.9,7.7 30.8 0 1 276.5,211.5" fill="none" stroke="#707070" stroke-width="0.55"/><path d="M285.8,200.6 A3.9,7.7 30.8 0 1 278.5,212.7" fill="none" stroke="#707070" stroke-width="0.55"/><path d="M287.8,201.8 A3.9,7.7 30.8 0 1 280.6,214.0" fill="none" stroke="#707070" stroke-width="0.55"/><path d="M289.9,203.0 A3.9,7.7 30.8 0 1 282.6,215.2" fill="none" stroke="#707070" stroke-width="0.55"/><path d="M291.9,204.2 A3.9,7.7 30.8 0 1 284.6,216.4" fill="none" stroke="#707070" stroke-width="0.55"/><path d="M293.9,205.4 A3.9,7.7 30.8 0 1 286.7,217.6" fill="none" stroke="#707070" stroke-width="0.55"/><path d="M296.0,206.7 A3.9,7.7 30.8 0 1 288.7,218.8" fill="none" stroke="#707070" stroke-width="0.55"/><path d="M298.0,207.9 A3.9,7.7 30.8 0 1 290.8,220.0" fill="none" stroke="#707070" stroke-width="0.55"/><path d="M300.1,209.1 A3.9,7.7 30.8 0 1 292.8,221.3" fill="none" stroke="#707070" stroke-width="0.55"/><path d="M302.1,210.3 A3.9,7.7 30.8 0 1 294.8,222.5" fill="none" stroke="#707070" stroke-width="0.55"/><ellipse cx="300.5" cy="217.6" rx="2.9" ry="5.3" fill="#bdbdbd" stroke="#000" stroke-width="1.2" transform="rotate(31.1 300.5 217.6)"/><polygon points="297.8,222.1 303.2,213.1 311.5,218.1 306.1,227.1" fill="#bdbdbd" stroke="#bdbdbd" stroke-width="0.1" stroke-linejoin="round" /><line x1="297.8" y1="222.1" x2="306.1" y2="227.1" stroke="#000" stroke-width="1.2" stroke-linecap="round" /><line x1="303.2" y1="213.1" x2="311.5" y2="218.1" stroke="#000" stroke-width="1.2" stroke-linecap="round" /><ellipse cx="308.8" cy="222.6" rx="2.9" ry="5.3" fill="#d9d9d9" stroke="#000" stroke-width="1.2" transform="rotate(31.1 308.8 222.6)"/></g>
<polygon points="220.3,77.2 235.4,78.0 235.3,82.0 268.9,102.3 269.3,96.8 284.2,119.1 269.1,118.2 269.1,114.0 235.9,94.0 235.4,99.6" fill="#696969" transform="translate(0.0 0.0)"/>
<polygon points="220.3,77.2 235.4,78.0 235.3,82.0 268.9,102.3 269.3,96.8 284.2,119.1 269.1,118.2 269.1,114.0 235.9,94.0 235.4,99.6" fill="#696969" transform="translate(403.7 -4.0)"/>
<polygon points="220.3,77.2 235.4,78.0 235.3,82.0 268.9,102.3 269.3,96.8 284.2,119.1 269.1,118.2 269.1,114.0 235.9,94.0 235.4,99.6" fill="#696969" transform="translate(-0.7 234.9)"/>
<polygon points="220.3,77.2 235.4,78.0 235.3,82.0 268.9,102.3 269.3,96.8 284.2,119.1 269.1,118.2 269.1,114.0 235.9,94.0 235.4,99.6" fill="#696969" transform="translate(419.3 232.4)"/>
<polygon points="220.3,77.2 235.4,78.0 235.3,82.0 268.9,102.3 269.3,96.8 284.2,119.1 269.1,118.2 269.1,114.0 235.9,94.0 235.4,99.6" fill="#696969" transform="translate(-18.7 464.3)"/>
<polygon points="220.3,77.2 235.4,78.0 235.3,82.0 268.9,102.3 269.3,96.8 284.2,119.1 269.1,118.2 269.1,114.0 235.9,94.0 235.4,99.6" fill="#696969" transform="translate(363.1 464.4)"/>
<line x1="12.1" y1="123.7" x2="71.1" y2="123.7" stroke="#555" stroke-width="1.3" stroke-linecap="round" /><line x1="71.1" y1="123.7" x2="114.6" y2="82.5" stroke="#111" stroke-width="1.0" stroke-linecap="round" /><polygon points="122.9,74.6 116.4,84.5 112.7,80.6" fill="#000" stroke="#000" stroke-width="0.5" stroke-linejoin="round" />
<line x1="312.7" y1="180.6" x2="374.7" y2="180.6" stroke="#555" stroke-width="1.3" stroke-linecap="round" /><line x1="312.7" y1="180.6" x2="294.6" y2="194.1" stroke="#111" stroke-width="1.0" stroke-linecap="round" /><polygon points="285.4,201.0 293.0,192.0 296.2,196.3" fill="#000" stroke="#000" stroke-width="0.5" stroke-linejoin="round" />
<line x1="414.3" y1="126.5" x2="473.4" y2="126.5" stroke="#555" stroke-width="1.3" stroke-linecap="round" /><line x1="473.4" y1="126.5" x2="516.2" y2="85.9" stroke="#111" stroke-width="1.0" stroke-linecap="round" /><polygon points="524.5,78.0 518.0,87.9 514.3,84.0" fill="#000" stroke="#000" stroke-width="0.5" stroke-linejoin="round" />
<line x1="728.2" y1="173.6" x2="791.8" y2="173.6" stroke="#555" stroke-width="1.3" stroke-linecap="round" /><line x1="728.2" y1="173.6" x2="706.5" y2="190.2" stroke="#111" stroke-width="1.0" stroke-linecap="round" /><polygon points="697.4,197.2 704.9,188.1 708.2,192.3" fill="#000" stroke="#000" stroke-width="0.5" stroke-linejoin="round" />
<line x1="7.4" y1="360.7" x2="66.9" y2="360.7" stroke="#555" stroke-width="1.3" stroke-linecap="round" /><line x1="66.9" y1="360.7" x2="111.8" y2="318.9" stroke="#111" stroke-width="1.0" stroke-linecap="round" /><polygon points="120.2,311.1 113.6,320.9 109.9,317.0" fill="#000" stroke="#000" stroke-width="0.5" stroke-linejoin="round" />
<line x1="411.9" y1="362.2" x2="489.2" y2="362.2" stroke="#555" stroke-width="1.3" stroke-linecap="round" /><line x1="489.2" y1="362.2" x2="532.1" y2="321.2" stroke="#111" stroke-width="1.0" stroke-linecap="round" /><polygon points="540.4,313.2 534.0,323.1 530.2,319.2" fill="#000" stroke="#000" stroke-width="0.5" stroke-linejoin="round" />
<line x1="298.3" y1="640.4" x2="362.2" y2="640.4" stroke="#555" stroke-width="1.3" stroke-linecap="round" /><line x1="298.3" y1="640.4" x2="286.6" y2="649.6" stroke="#111" stroke-width="1.0" stroke-linecap="round" /><polygon points="277.5,656.7 284.9,647.5 288.2,651.7" fill="#000" stroke="#000" stroke-width="0.5" stroke-linejoin="round" />
<line x1="688.9" y1="640.7" x2="751.4" y2="640.7" stroke="#555" stroke-width="1.3" stroke-linecap="round" /><line x1="688.9" y1="640.7" x2="667.1" y2="656.3" stroke="#111" stroke-width="1.0" stroke-linecap="round" /><polygon points="657.7,663.0 665.5,654.1 668.6,658.5" fill="#000" stroke="#000" stroke-width="0.5" stroke-linejoin="round" />
<line x1="636.2" y1="679.5" x2="636.2" y2="691.0" stroke="#666" stroke-width="0.8" stroke-linecap="round" />
<text x="3.5" y="28.0" font-size="21" textLength="346.5" lengthAdjust="spacing">A: Adjustable rubber stopper(Both</text>
<text x="3.5" y="51.8" font-size="21" textLength="56.0" lengthAdjust="spacing">ends)</text>
<text x="194.6" y="70.3" font-size="21" textLength="90.8" lengthAdjust="spacing">Extension</text>
<text x="289.1" y="124.7" font-size="21" textLength="95.0" lengthAdjust="spacing">Retraction</text>
<text x="4.3" y="119.8" font-size="21" textLength="67.7" lengthAdjust="spacing">Rubber</text>
<text x="4.3" y="139.8" font-size="21" textLength="69.4" lengthAdjust="spacing">stopper</text>
<text x="313.8" y="176.6" font-size="21" textLength="68.2" lengthAdjust="spacing">Rubber</text>
<text x="313.2" y="196.7" font-size="21" textLength="69.6" lengthAdjust="spacing">stopper</text>
<text x="405.0" y="27.7" font-size="21" textLength="303.6" lengthAdjust="spacing">B: Shock absorber(Both ends)</text>
<text x="597.7" y="65.9" font-size="21" textLength="91.4" lengthAdjust="spacing">Extension</text>
<text x="692.5" y="120.8" font-size="21" textLength="94.8" lengthAdjust="spacing">Retraction</text>
<text x="408.6" y="123.2" font-size="21" textLength="58.5" lengthAdjust="spacing">Shock</text>
<text x="408.6" y="143.7" font-size="21" textLength="83.8" lengthAdjust="spacing">absorber</text>
<text x="722.6" y="170.0" font-size="21" textLength="56.9" lengthAdjust="spacing">Shock</text>
<text x="722.6" y="190.3" font-size="21" textLength="82.6" lengthAdjust="spacing">absorber</text>
<text x="3.0" y="261.4" font-size="21" textLength="282.0" lengthAdjust="spacing">AS: Adjustable rubber stopper</text>
<text x="3.7" y="285.1" font-size="21" textLength="105.3" lengthAdjust="spacing">(Extension)</text>
<text x="193.6" y="304.8" font-size="21" textLength="91.4" lengthAdjust="spacing">Extension</text>
<text x="288.5" y="359.3" font-size="21" textLength="94.6" lengthAdjust="spacing">Retraction</text>
<text x="2.0" y="355.7" font-size="21" textLength="68.6" lengthAdjust="spacing">Rubber</text>
<text x="2.0" y="375.5" font-size="21" textLength="69.9" lengthAdjust="spacing">stopper</text>
<text x="411.1" y="264.0" font-size="21" textLength="329.8" lengthAdjust="spacing">BS: Shock absorber(Extension)</text>
<text x="613.2" y="302.4" font-size="21" textLength="91.8" lengthAdjust="spacing">Extension</text>
<text x="707.8" y="357.4" font-size="21" textLength="95.6" lengthAdjust="spacing">Retraction</text>
<text x="413.5" y="359.2" font-size="21" textLength="62.8" lengthAdjust="spacing">Shock</text>
<text x="413.5" y="379.5" font-size="21" textLength="91.2" lengthAdjust="spacing">absorber</text>
<text x="4.0" y="495.8" font-size="21" textLength="382.6" lengthAdjust="spacing">AF: Adjustable rubber stopper(Retraction)</text>
<text x="175.5" y="534.2" font-size="21" textLength="91.6" lengthAdjust="spacing">Extension</text>
<text x="270.0" y="589.2" font-size="21" textLength="95.2" lengthAdjust="spacing">Retraction</text>
<text x="302.8" y="635.3" font-size="21" textLength="69.0" lengthAdjust="spacing">Rubber</text>
<text x="302.2" y="655.2" font-size="21" textLength="70.4" lengthAdjust="spacing">stopper</text>
<text x="405.0" y="497.7" font-size="21" textLength="331.9" lengthAdjust="spacing">BF: Shock absorber(Retraction)</text>
<text x="557.6" y="534.2" font-size="21" textLength="91.2" lengthAdjust="spacing">Extension</text>
<text x="652.7" y="589.2" font-size="21" textLength="94.2" lengthAdjust="spacing">Retraction</text>
<text x="693.4" y="636.8" font-size="21" textLength="62.4" lengthAdjust="spacing">Shock</text>
<text x="693.4" y="656.1" font-size="21" textLength="92.2" lengthAdjust="spacing">absorber</text>
</svg>
</body></html>
